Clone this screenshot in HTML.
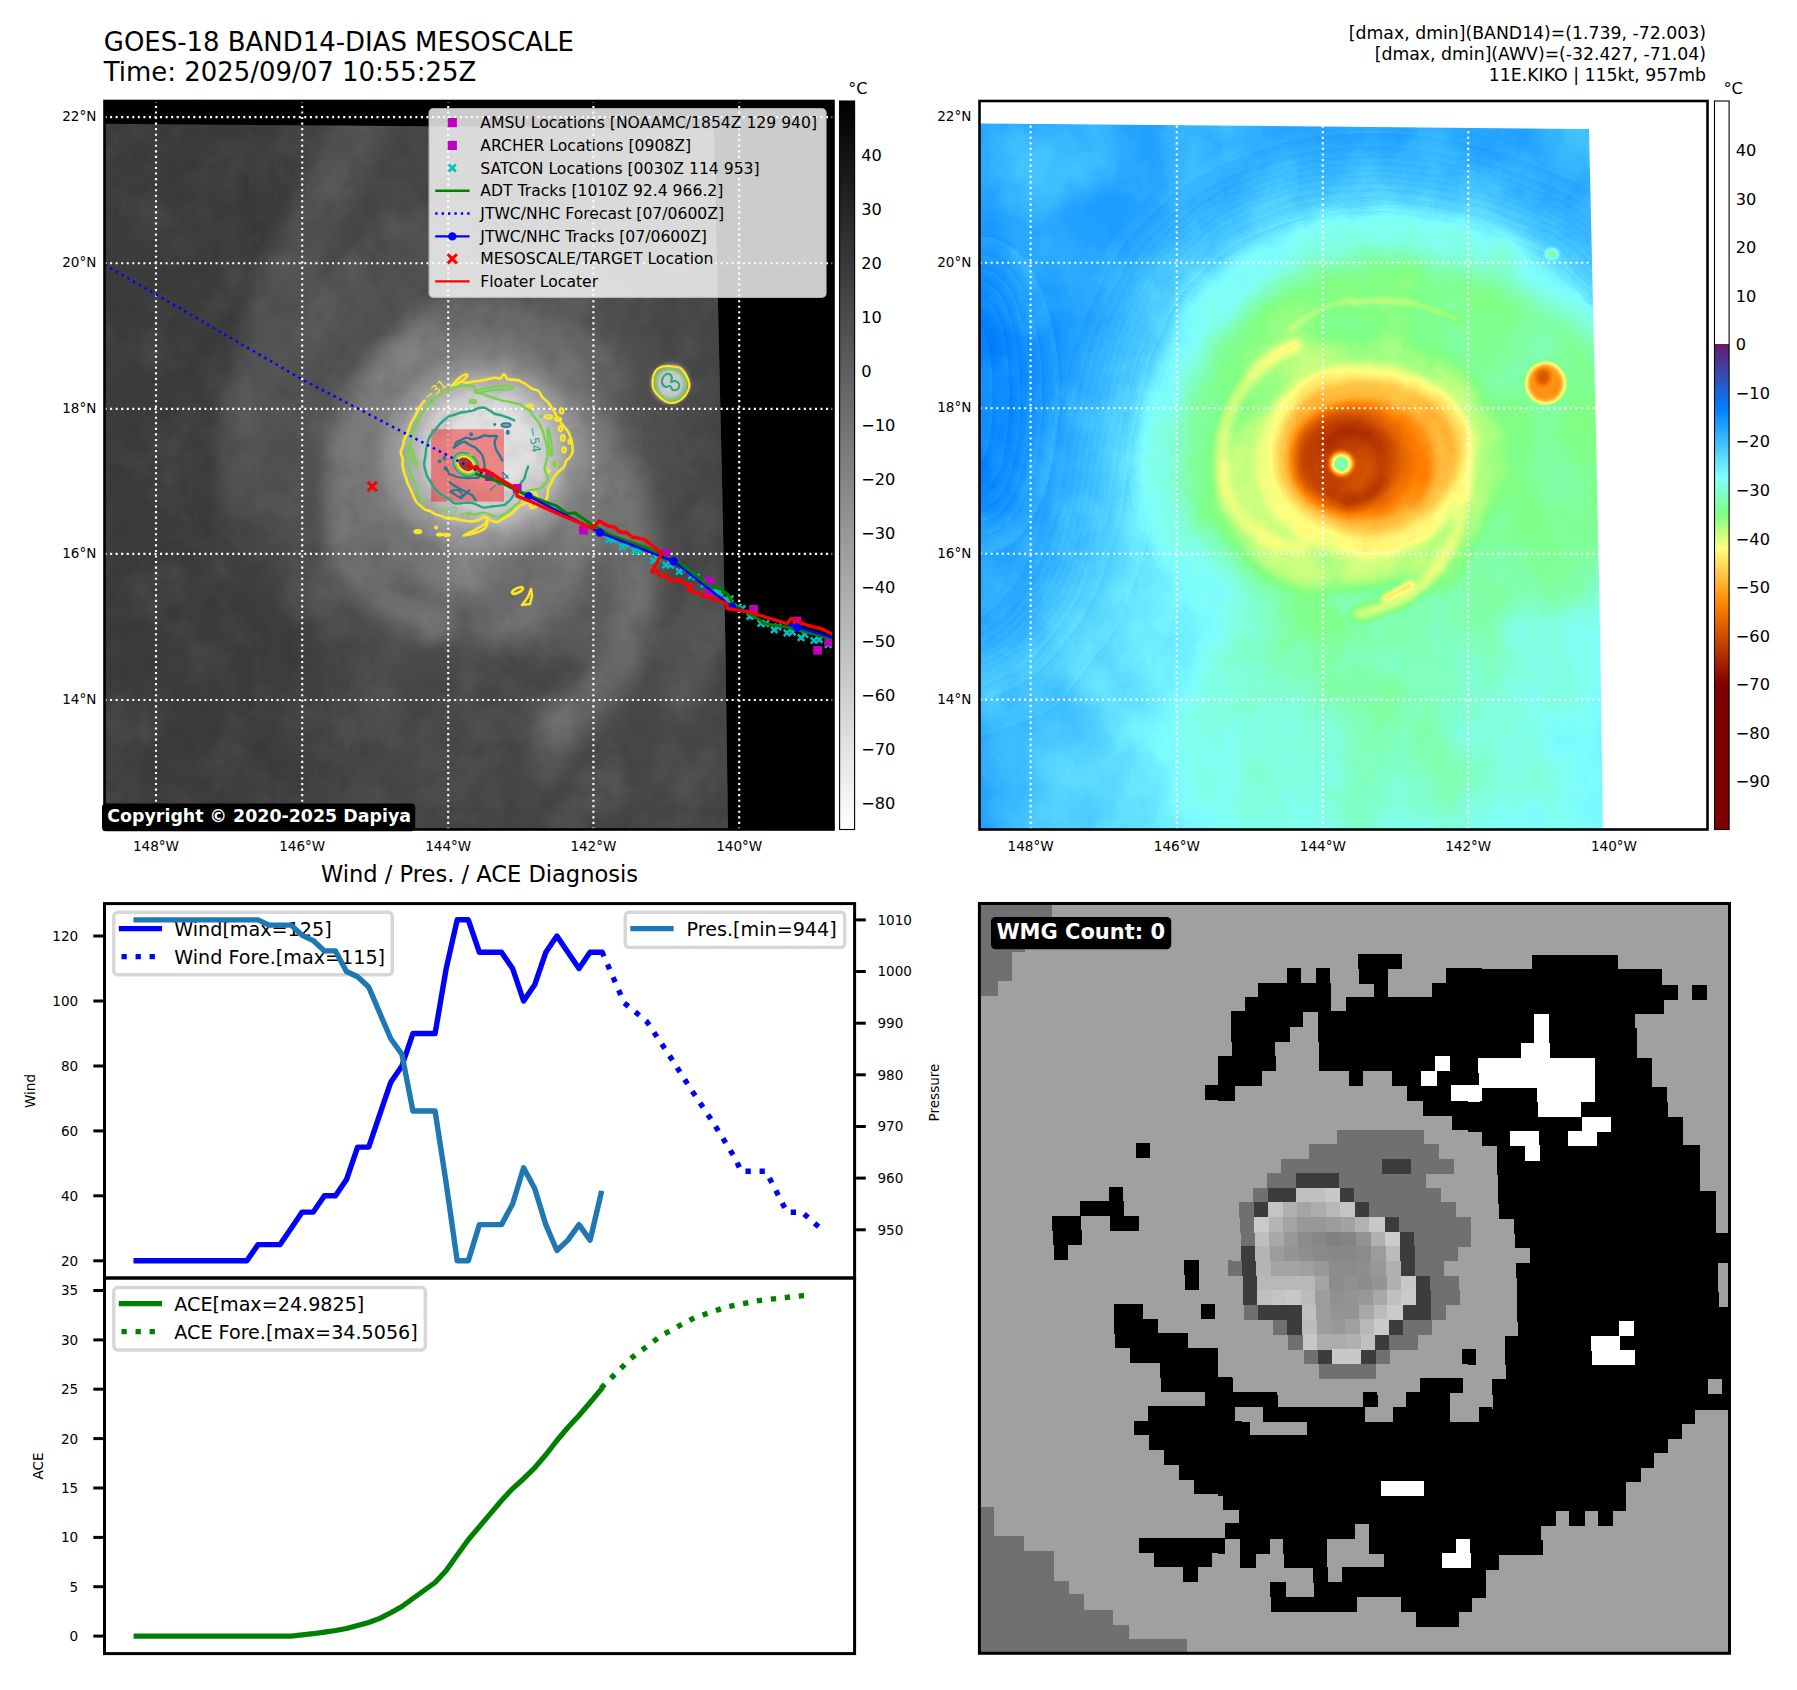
<!DOCTYPE html>
<html><head><meta charset="utf-8"><title>GOES-18 BAND14-DIAS MESOSCALE</title>
<style>
html,body{margin:0;padding:0;background:#fff;}
svg{display:block;}
text{font-family:"DejaVu Sans","Liberation Sans",sans-serif;}
</style></head>
<body>
<svg width="1797" height="1690" viewBox="0 0 1797 1690">
<text x="103.80" y="51.00" font-size="25.95" text-anchor="start" font-weight="normal" fill="#000" >GOES-18 BAND14-DIAS MESOSCALE</text>
<text x="103.80" y="80.60" font-size="25.95" text-anchor="start" font-weight="normal" fill="#000" >Time: 2025/09/07 10:55:25Z</text>
<text x="1706.00" y="38.70" font-size="17.3" text-anchor="end" font-weight="normal" fill="#000" >[dmax, dmin](BAND14)=(1.739, -72.003)</text>
<text x="1706.00" y="59.60" font-size="17.3" text-anchor="end" font-weight="normal" fill="#000" >[dmax, dmin](AWV)=(-32.427, -71.04)</text>
<text x="1706.00" y="81.00" font-size="17.3" text-anchor="end" font-weight="normal" fill="#000" >11E.KIKO | 115kt, 957mb</text>
<defs>
<linearGradient id="gGray" x1="0" y1="0" x2="0" y2="1"><stop offset="0" stop-color="#000"/><stop offset="1" stop-color="#fff"/></linearGradient>
<linearGradient id="gWV" x1="0" y1="0" x2="0" y2="1"><stop offset="0" stop-color="#fff"/><stop offset="0.3333" stop-color="#fff"/><stop offset="0.3334" stop-color="#6a1a6a"/><stop offset="0.4227" stop-color="#0080ff"/><stop offset="0.5160" stop-color="#80ffff"/><stop offset="0.5687" stop-color="#80ff80"/><stop offset="0.6133" stop-color="#ffff80"/><stop offset="0.6933" stop-color="#ff8000"/><stop offset="0.8000" stop-color="#800000"/><stop offset="1.0000" stop-color="#800000"/></linearGradient>
<filter id="b2" filterUnits="userSpaceOnUse" x="0" y="0" width="1797" height="1690"><feGaussianBlur stdDeviation="2"/></filter>
<filter id="b4" filterUnits="userSpaceOnUse" x="0" y="0" width="1797" height="1690"><feGaussianBlur stdDeviation="4"/></filter>
<filter id="b8" filterUnits="userSpaceOnUse" x="0" y="0" width="1797" height="1690"><feGaussianBlur stdDeviation="8"/></filter>
<filter id="b14" filterUnits="userSpaceOnUse" x="0" y="0" width="1797" height="1690"><feGaussianBlur stdDeviation="14"/></filter>
<filter id="b25" filterUnits="userSpaceOnUse" x="0" y="0" width="1797" height="1690"><feGaussianBlur stdDeviation="25"/></filter>
<clipPath id="clipA1"><rect x="104.5" y="101" width="729" height="728.5"/></clipPath>
<clipPath id="clipImg1"><polygon points="104.5,123.8 714,128.6 718,305 722,480 725.3,640 728,829.5 104.5,829.5"/></clipPath>
<clipPath id="clipA2"><rect x="979.5" y="101" width="728" height="728.5"/></clipPath>
<clipPath id="clipImg2"><polygon points="979.5,123.4 1589,129 1593,305 1597,480 1600.2,640 1602.9,829.5 979.5,829.5"/></clipPath>
</defs>
<rect x="104.5" y="101.0" width="729.0" height="728.5" fill="#000"/>
<g clip-path="url(#clipA1)">
<g clip-path="url(#clipImg1)">
<filter id="noise1" x="0" y="0" width="100%" height="100%" color-interpolation-filters="sRGB"><feTurbulence type="fractalNoise" baseFrequency="0.02 0.016" numOctaves="4" seed="11"/><feColorMatrix type="matrix" values="0 0 0 0 1  0 0 0 0 1  0 0 0 0 1  2.2 0 0 0 -0.95"/></filter><filter id="noise1b" x="0" y="0" width="100%" height="100%" color-interpolation-filters="sRGB"><feTurbulence type="fractalNoise" baseFrequency="0.05" numOctaves="3" seed="5"/><feColorMatrix type="matrix" values="0 0 0 0 0  0 0 0 0 0  0 0 0 0 0  2.0 0 0 0 -0.9"/></filter>
<rect x="100" y="95" width="750" height="745" fill="#3c3c3c"/>
<rect x="300" y="90" width="460" height="760" fill="#4a4a4a" opacity="0.85" filter="url(#b25)"/>
<polygon points="395,110 340,110 250,300 222,420 218,520 262,520 275,420 300,320" fill="#525252" opacity="0.9" filter="url(#b8)"/>
<ellipse cx="200" cy="660" rx="130" ry="150" fill="#3d3d3d" opacity="0.7" filter="url(#b25)"/>
<ellipse cx="690" cy="650" rx="28" ry="75" fill="#5a5a5a" opacity="0.7" filter="url(#b8)" transform="rotate(15 690 650)"/>
<ellipse cx="555" cy="745" rx="22" ry="45" fill="#5c5c5c" opacity="0.7" filter="url(#b8)" transform="rotate(20 555 745)"/>
<ellipse cx="600" cy="790" rx="30" ry="25" fill="#525252" opacity="0.6" filter="url(#b8)"/>
<ellipse cx="455" cy="445" rx="225" ry="210" fill="#565656" opacity="0.75" filter="url(#b25)"/>
<ellipse cx="480" cy="452" rx="140" ry="140" fill="#747474" opacity="0.9" filter="url(#b14)"/>
<ellipse cx="472" cy="472" rx="112" ry="128" fill="#868686" opacity="0.75" filter="url(#b14)"/>
<ellipse cx="565" cy="555" rx="85" ry="100" fill="#686868" opacity="0.6" filter="url(#b14)"/>
<ellipse cx="400" cy="470" rx="70" ry="110" fill="#686868" opacity="0.45" filter="url(#b14)"/>
<path d="M580,430 C630,480 650,560 632,630 C617,680 587,710 555,725" fill="none" stroke="#7e7e7e" stroke-width="42" stroke-linecap="round" stroke-linejoin="round" opacity="0.62" filter="url(#b14)"/>
<path d="M560,400 C600,450 600,530 560,585 C540,610 510,625 480,628" fill="none" stroke="#8c8c8c" stroke-width="32" stroke-linecap="round" stroke-linejoin="round" opacity="0.55" filter="url(#b14)"/>
<path d="M430,335 C355,390 325,480 350,550 C365,590 400,615 440,625" fill="none" stroke="#868686" stroke-width="34" stroke-linecap="round" stroke-linejoin="round" opacity="0.55" filter="url(#b8)"/>
<path d="M420,320 C500,290 580,320 620,380" fill="none" stroke="#707070" stroke-width="26" stroke-linecap="round" stroke-linejoin="round" opacity="0.5" filter="url(#b8)"/>
<ellipse cx="482" cy="455" rx="102" ry="94" fill="#989898" opacity="0.95" filter="url(#b8)"/>
<ellipse cx="484" cy="453" rx="82" ry="77" fill="#b4b4b4" opacity="1" filter="url(#b4)"/>
<ellipse cx="486" cy="452" rx="66" ry="62" fill="#d0d0d0" opacity="1" filter="url(#b4)"/>
<ellipse cx="492" cy="446" rx="46" ry="42" fill="#e0e0e0" opacity="1" filter="url(#b4)"/>
<ellipse cx="463.6" cy="463.6" rx="5" ry="5" fill="#707070" opacity="1" filter="url(#b2)"/>
<ellipse cx="670.6" cy="383.4" rx="19" ry="20" fill="#9a9a9a" opacity="1" filter="url(#b2)"/>
<ellipse cx="670.6" cy="383.4" rx="14" ry="15" fill="#c8c8c8" opacity="1" filter="url(#b2)"/>
<rect x="100" y="95" width="750" height="745" filter="url(#noise1)" opacity="0.07"/>
<rect x="100" y="95" width="750" height="745" filter="url(#noise1b)" opacity="0.07"/>
</g>
<g stroke="#fff" stroke-width="2.15" stroke-dasharray="2.1 3.45" fill="none"><line x1="156.0" y1="829.5" x2="156.0" y2="101.0"/><line x1="302.2" y1="829.5" x2="302.2" y2="101.0"/><line x1="448.2" y1="829.5" x2="448.2" y2="101.0"/><line x1="593.4" y1="829.5" x2="593.4" y2="101.0"/><line x1="739.2" y1="829.5" x2="739.2" y2="101.0"/><line x1="104.5" y1="117.1" x2="833.5" y2="117.1"/><line x1="104.5" y1="263.2" x2="833.5" y2="263.2"/><line x1="104.5" y1="408.8" x2="833.5" y2="408.8"/><line x1="104.5" y1="553.8" x2="833.5" y2="553.8"/><line x1="104.5" y1="700.0" x2="833.5" y2="700.0"/></g>
<rect x="431.1" y="429.2" width="72.9" height="72.5" fill="#ff0000" fill-opacity="0.4"/>
<path d="M451.1,385.5 C451.9,385.3 454.3,384.8 456.0,384.2 C457.7,383.5 459.4,381.9 461.2,381.7 C463.1,381.5 465.0,382.8 467.2,382.8 C469.5,382.7 472.2,381.8 474.8,381.4 C477.3,381.0 480.3,380.8 482.6,380.4 C485.0,379.9 486.9,379.3 488.8,378.9 C490.8,378.5 492.5,377.8 494.4,377.7 C496.3,377.6 499.1,378.6 500.3,378.4 C501.5,378.2 501.3,377.4 501.9,376.7 C502.5,376.0 503.2,373.9 503.9,374.0 C504.7,374.2 505.8,376.7 506.4,377.6 C507.1,378.5 506.8,378.9 508.0,379.3 C509.2,379.6 512.0,379.6 513.7,379.8 C515.4,379.9 516.8,379.8 518.2,380.2 C519.6,380.6 521.1,381.7 522.3,382.4 C523.6,383.0 524.3,383.2 525.9,384.2 C527.5,385.3 529.8,387.4 531.9,388.6 C534.0,389.8 536.9,389.9 538.6,391.2 C540.3,392.6 540.4,394.9 542.0,396.8 C543.6,398.6 546.7,400.8 548.2,402.5 C549.8,404.2 550.1,405.4 551.2,407.0 C552.2,408.5 553.5,410.2 554.5,411.9 C555.5,413.5 556.2,415.2 557.2,417.0 C558.2,418.7 559.4,420.6 560.6,422.3 C561.7,423.9 563.0,425.4 564.3,427.0 C565.6,428.6 567.3,430.5 568.2,431.9 C569.0,433.2 569.0,433.6 569.6,435.1 C570.2,436.7 571.2,439.4 571.7,441.3 C572.2,443.2 572.2,444.8 572.4,446.5 C572.5,448.3 573.0,450.0 572.6,451.8 C572.2,453.6 571.0,455.6 569.9,457.2 C568.8,458.7 566.9,459.4 565.9,461.0 C565.0,462.6 565.1,465.2 564.0,466.8 C563.0,468.4 560.9,469.5 559.7,470.6 C558.5,471.7 557.8,472.2 556.7,473.6 C555.6,474.9 553.8,477.4 552.9,478.8 C552.1,480.3 552.3,480.9 551.6,482.3 C550.9,483.6 549.4,485.3 548.8,487.0 C548.1,488.7 548.1,490.4 547.8,492.2 C547.5,494.1 547.5,496.5 546.9,498.1 C546.3,499.8 545.2,501.2 544.4,502.3 C543.7,503.4 543.5,504.2 542.3,504.8 C541.2,505.4 539.3,505.4 537.5,505.9 C535.7,506.4 532.7,508.0 531.5,507.8 C530.2,507.5 530.7,505.2 529.8,504.4 C529.0,503.5 527.5,502.6 526.5,502.7 C525.4,502.7 524.3,504.2 523.4,504.6 C522.5,505.1 522.2,504.5 520.9,505.3 C519.6,506.2 517.0,508.3 515.4,509.7 C513.7,511.2 512.9,512.6 511.0,514.0 C509.0,515.4 506.0,516.9 503.7,518.2 C501.4,519.6 499.5,521.8 497.3,522.1 C495.1,522.5 492.7,521.0 490.5,520.2 C488.3,519.3 486.0,517.1 484.2,517.0 C482.4,517.0 481.5,519.1 479.6,519.8 C477.7,520.5 475.1,521.0 472.9,521.3 C470.8,521.5 468.9,521.3 466.8,521.1 C464.6,520.9 462.2,520.4 460.1,520.0 C458.0,519.5 456.3,518.6 454.1,518.4 C452.0,518.1 449.2,518.9 447.0,518.5 C444.9,518.1 443.2,516.7 441.2,515.9 C439.3,515.2 437.3,515.2 435.3,514.3 C433.4,513.4 431.0,511.4 429.4,510.7 C427.8,510.0 427.3,510.8 425.8,509.9 C424.3,509.1 421.9,506.9 420.3,505.5 C418.7,504.1 417.4,503.3 416.2,501.7 C415.1,500.1 414.3,497.6 413.4,495.8 C412.6,493.9 412.0,492.3 411.1,490.3 C410.2,488.4 408.8,486.2 408.0,484.0 C407.1,481.9 406.5,479.4 405.9,477.5 C405.3,475.6 404.9,474.8 404.3,472.8 C403.8,470.9 403.0,468.3 402.7,466.0 C402.4,463.7 403.0,461.2 402.7,458.9 C402.3,456.6 400.6,454.4 400.7,452.2 C400.7,450.0 402.5,447.7 403.1,445.7 C403.6,443.7 403.2,442.1 403.9,440.2 C404.6,438.2 406.2,436.1 407.2,433.9 C408.1,431.6 408.8,428.9 409.6,426.9 C410.3,424.9 410.6,423.7 411.6,421.8 C412.6,419.9 414.3,417.9 415.5,415.5 C416.8,413.2 417.6,410.3 419.1,407.8 C420.6,405.4 423.5,402.0 424.4,400.9" fill="none" stroke="#fde725" stroke-width="2.6" stroke-linejoin="round" stroke-linecap="round"/>
<path d="M453.9,383.7 C454.7,382.4 458.8,378.1 461.0,376.6 C463.2,375.0 466.1,374.0 466.9,374.2 C467.7,374.4 467.5,376.1 465.7,377.8 C464.0,379.4 458.2,383.3 456.3,384.3 C454.3,385.2 453.1,385.0 453.9,383.7Z" fill="none" stroke="#fde725" stroke-width="2.5" stroke-linejoin="round" stroke-linecap="round"/>
<path d="M463.5,535.4 C463.5,534.9 469.6,532.8 473.1,530.9 C476.7,528.9 482.5,526.0 484.9,523.7 C487.4,521.5 487.7,516.6 487.8,517.4 C487.8,518.1 487.5,525.5 485.1,528.2 C482.7,530.9 476.8,532.4 473.2,533.6 C469.6,534.8 463.5,535.8 463.5,535.4Z" fill="none" stroke="#fde725" stroke-width="2.5" stroke-linejoin="round" stroke-linecap="round"/>
<path d="M529.6,493.7 C530.2,492.1 532.6,491.0 533.8,491.4 C535.0,491.8 536.4,493.7 536.7,496.1 C537.0,498.5 536.4,503.6 535.6,505.6 C534.7,507.5 532.3,508.7 531.4,507.9 C530.5,507.1 530.5,503.2 530.2,500.8 C529.9,498.5 529.1,495.3 529.6,493.7Z" fill="none" stroke="#fde725" stroke-width="2.5" stroke-linejoin="round" stroke-linecap="round"/>
<ellipse cx="417.8" cy="531.6" rx="3.3" ry="1.4" fill="none" stroke="#fde725" stroke-width="2.4"/>
<ellipse cx="439.7" cy="534.6" rx="2.6" ry="0.9" fill="none" stroke="#fde725" stroke-width="2.4"/>
<ellipse cx="446.8" cy="534.9" rx="3.0" ry="0.9" fill="none" stroke="#fde725" stroke-width="2.4"/>
<ellipse cx="436.2" cy="527.5" rx="0.9" ry="0.9" fill="none" stroke="#fde725" stroke-width="2.4"/>
<ellipse cx="529.6" cy="406.2" rx="3.0" ry="1.4" fill="none" stroke="#fde725" stroke-width="2.4"/>
<ellipse cx="548.6" cy="416.8" rx="3.6" ry="1.7" fill="none" stroke="#fde725" stroke-width="2.4"/>
<ellipse cx="558.0" cy="419.2" rx="3.0" ry="1.4" fill="none" stroke="#fde725" stroke-width="2.4"/>
<ellipse cx="561.6" cy="410.9" rx="1.8" ry="2.4" fill="none" stroke="#fde725" stroke-width="2.4"/>
<ellipse cx="560.4" cy="428.6" rx="1.7" ry="2.6" fill="none" stroke="#fde725" stroke-width="2.4"/>
<ellipse cx="562.8" cy="438.1" rx="1.9" ry="2.8" fill="none" stroke="#fde725" stroke-width="2.4"/>
<ellipse cx="569.9" cy="441.7" rx="1.4" ry="1.9" fill="none" stroke="#fde725" stroke-width="2.4"/>
<ellipse cx="564.0" cy="449.9" rx="1.7" ry="2.4" fill="none" stroke="#fde725" stroke-width="2.4"/>
<ellipse cx="555.7" cy="464.1" rx="1.4" ry="2.1" fill="none" stroke="#fde725" stroke-width="2.4"/>
<ellipse cx="548.6" cy="471.2" rx="0.9" ry="1.2" fill="none" stroke="#fde725" stroke-width="2.4"/>
<ellipse cx="517.5" cy="590.5" rx="6" ry="2.2" transform="rotate(-25 517.5 590.5)" fill="none" stroke="#fde725" stroke-width="2.5"/>
<path d="M522,605 L528,597 L531,589 L532,596 L530,604 Z" fill="none" stroke="#fde725" stroke-width="2.5" stroke-linejoin="round"/>
<path d="M431.2,399.8 C432.3,399.1 435.5,396.9 437.5,395.6 C439.5,394.2 441.3,392.8 443.3,391.8 C445.2,390.8 447.2,390.4 449.2,389.6 C451.3,388.8 453.2,387.8 455.7,387.1 C458.2,386.5 461.2,386.1 464.0,385.8 C466.9,385.6 471.0,385.4 472.7,385.8 C474.5,386.3 473.9,387.3 474.8,388.4 C475.6,389.5 476.7,391.6 477.7,392.5 C478.8,393.4 480.0,393.2 481.2,393.6 C482.5,394.0 483.6,394.4 485.2,395.0 C486.9,395.5 489.2,396.4 491.0,397.0 C492.8,397.6 494.2,398.0 496.1,398.6 C497.9,399.2 500.2,400.1 502.2,400.6 C504.2,401.1 505.9,401.1 508.0,401.5 C510.0,401.9 512.4,402.6 514.4,403.0 C516.5,403.5 518.6,403.7 520.2,404.4 C521.9,405.2 522.8,406.5 524.4,407.6 C526.0,408.6 528.3,409.3 529.9,410.8 C531.4,412.3 532.2,414.6 533.6,416.3 C534.9,418.1 536.6,419.4 537.9,421.3 C539.2,423.2 540.3,425.7 541.2,427.7 C542.2,429.7 542.9,431.5 543.5,433.5 C544.2,435.5 544.6,437.8 545.1,439.7 C545.6,441.7 546.1,443.1 546.5,445.0 C546.9,446.8 547.2,448.6 547.4,450.7 C547.5,452.7 547.6,455.3 547.3,457.3 C547.0,459.4 546.3,461.0 545.8,462.9 C545.3,464.9 544.4,467.2 544.5,469.1 C544.6,471.0 546.0,472.6 546.5,474.3 C547.1,476.0 548.2,477.7 547.8,479.3 C547.5,480.9 545.7,482.4 544.7,483.8 C543.6,485.2 543.0,486.8 541.6,487.8 C540.1,488.7 538.0,489.1 536.0,489.5 C534.0,490.0 531.2,490.0 529.6,490.4 C528.0,490.7 527.1,491.1 526.2,491.6 C525.2,492.1 524.6,492.2 523.9,493.1 C523.2,494.0 522.6,495.5 521.7,497.0 C520.9,498.5 520.1,500.7 518.9,502.2 C517.6,503.7 515.7,504.8 514.3,506.1 C512.9,507.4 512.0,508.5 510.3,509.8 C508.6,511.2 506.2,513.0 504.3,514.2 C502.3,515.4 500.5,516.9 498.4,517.1 C496.3,517.3 494.0,516.2 491.6,515.5 C489.3,514.7 486.3,512.9 484.2,512.6 C482.0,512.3 480.6,513.4 478.8,513.7 C477.0,514.0 474.9,514.4 473.2,514.3 C471.6,514.2 470.3,513.3 469.0,513.2 C467.7,513.0 466.1,513.1 465.6,513.1" fill="none" stroke="#7ad151" stroke-width="2.4" stroke-linejoin="round" stroke-linecap="round"/>
<path d="M424.0,506.0 C423.4,504.8 421.6,501.2 420.4,498.7 C419.2,496.2 417.6,493.5 416.8,491.1 C416.0,488.8 416.0,486.7 415.4,484.6 C414.7,482.4 413.4,480.3 412.6,478.3 C411.8,476.3 411.3,474.3 410.7,472.4 C410.0,470.5 409.1,468.9 408.6,466.8 C408.2,464.8 408.2,462.4 407.9,460.3 C407.7,458.3 407.1,456.3 407.3,454.4 C407.4,452.6 408.4,451.2 408.8,449.2 C409.3,447.2 409.5,444.4 410.0,442.5 C410.5,440.5 411.1,439.3 411.7,437.4 C412.2,435.5 412.4,433.4 413.2,431.1 C414.0,428.9 415.5,426.4 416.5,424.1 C417.5,421.7 417.9,419.6 419.4,417.0 C420.9,414.4 423.4,411.5 425.5,408.7 C427.6,405.9 430.8,401.7 431.8,400.3" fill="none" stroke="#7ad151" stroke-width="2.4" stroke-linejoin="round" stroke-linecap="round"/>
<path d="M475.2,391.0 C476.4,390.2 481.1,389.2 484.7,388.4 C488.2,387.6 492.6,386.7 496.5,386.3 C500.5,385.8 505.6,385.6 508.3,385.8 C511.1,386.0 513.1,386.9 513.1,387.5 C513.1,388.0 511.1,389.0 508.3,389.3 C505.6,389.7 500.5,389.2 496.5,389.6 C492.6,390.0 487.8,391.1 484.7,391.7 C481.5,392.3 479.2,393.3 477.6,393.1 C476.0,393.0 474.0,391.8 475.2,391.0Z" fill="none" stroke="#7ad151" stroke-width="2.3" stroke-linejoin="round" stroke-linecap="round"/>
<path d="M407.8,447.6 C407.7,445.6 409.7,444.0 410.7,445.2 C411.7,446.4 412.6,451.5 413.7,454.7 C414.8,457.8 416.9,462.4 417.2,464.1 C417.5,465.9 416.4,466.5 415.4,465.3 C414.5,464.1 412.6,460.0 411.3,457.0 C410.0,454.1 407.9,449.5 407.8,447.6Z" fill="none" stroke="#7ad151" stroke-width="2.3" stroke-linejoin="round" stroke-linecap="round"/>
<path d="M547.4,429.8 C547.5,427.9 548.5,428.8 549.2,431.0 C549.9,433.2 551.0,438.9 551.5,442.8 C552.0,446.8 552.3,452.7 552.1,454.7 C551.9,456.6 550.9,456.6 550.4,454.7 C549.8,452.7 549.1,447.0 548.6,442.8 C548.1,438.7 547.3,431.8 547.4,429.8Z" fill="none" stroke="#7ad151" stroke-width="2.3" stroke-linejoin="round" stroke-linecap="round"/>
<ellipse cx="472.8" cy="401.4" rx="3.3" ry="1.7" fill="#7ad151" fill-opacity="0.5" stroke="#7ad151" stroke-width="1.8"/>
<ellipse cx="431.4" cy="401.4" rx="1.7" ry="1.7" fill="#7ad151" fill-opacity="0.5" stroke="#7ad151" stroke-width="1.8"/>
<ellipse cx="540.9" cy="416.2" rx="0.9" ry="0.9" fill="#7ad151" fill-opacity="0.5" stroke="#7ad151" stroke-width="1.8"/>
<ellipse cx="555.1" cy="464.1" rx="1.7" ry="2.4" fill="#7ad151" fill-opacity="0.5" stroke="#7ad151" stroke-width="1.8"/>
<ellipse cx="462.2" cy="515.0" rx="1.2" ry="0.9" fill="#7ad151" fill-opacity="0.5" stroke="#7ad151" stroke-width="1.8"/>
<ellipse cx="468.1" cy="513.8" rx="1.4" ry="1.2" fill="#7ad151" fill-opacity="0.5" stroke="#7ad151" stroke-width="1.8"/>
<path d="M514.2,420.4 C513.3,420.0 510.8,418.7 508.9,417.9 C506.9,417.2 504.3,416.3 502.4,415.7 C500.6,415.1 499.3,414.8 497.9,414.5 C496.5,414.1 495.8,414.3 494.3,413.6 C492.8,412.9 490.6,411.0 488.9,410.1 C487.2,409.1 485.8,408.1 484.2,407.7 C482.5,407.4 480.8,407.5 479.0,408.0 C477.2,408.4 475.4,409.7 473.4,410.3 C471.4,410.9 469.2,411.2 467.1,411.6 C465.0,412.0 462.6,412.2 460.6,412.7 C458.6,413.2 457.1,413.9 455.1,414.5 C453.2,415.1 450.7,415.5 448.8,416.5 C446.9,417.5 445.4,419.0 443.9,420.3 C442.3,421.6 441.1,422.7 439.6,424.3 C438.2,425.9 436.6,428.1 435.0,430.0 C433.4,431.9 431.4,433.9 430.2,435.9 C429.0,437.9 428.5,439.7 427.8,442.0 C427.1,444.2 426.5,446.9 426.1,449.4 C425.7,451.8 425.7,454.3 425.3,456.7 C425.0,459.1 424.1,461.7 424.1,463.8 C424.1,466.0 424.8,467.5 425.2,469.5 C425.7,471.5 426.1,473.8 427.0,475.9 C427.9,477.9 429.4,479.7 430.7,481.8 C431.9,483.8 433.1,486.6 434.3,488.2 C435.5,489.9 436.4,490.3 437.9,491.6 C439.5,492.9 441.8,494.7 443.7,496.1 C445.7,497.4 447.9,498.3 449.7,499.5 C451.6,500.7 452.2,502.8 454.6,503.4 C457.0,503.9 461.3,503.0 464.3,502.9 C467.3,502.9 469.8,502.5 472.3,503.0 C474.8,503.5 477.3,505.1 479.3,505.9 C481.3,506.6 481.8,507.6 484.2,507.6 C486.6,507.7 490.4,506.6 493.7,506.2 C497.0,505.8 501.7,505.8 504.0,505.2 C506.2,504.6 506.2,503.4 507.2,502.5 C508.3,501.7 509.1,501.4 510.3,499.9 C511.5,498.5 513.0,495.9 514.4,493.9 C515.8,491.9 517.4,489.6 518.5,487.7 C519.6,485.9 520.1,484.3 521.0,482.8 C522.0,481.3 523.5,480.4 524.3,478.7 C525.1,477.1 525.2,474.9 525.9,472.9 C526.5,470.8 527.7,467.5 528.1,466.4" fill="none" stroke="#22a884" stroke-width="2.4" stroke-linejoin="round" stroke-linecap="round"/>
<path d="M453.7,447.8 C453.9,447.4 454.9,446.4 455.3,445.6 C455.7,444.7 455.1,443.5 456.0,442.6 C456.9,441.7 459.0,441.0 460.7,440.2 C462.3,439.4 464.5,438.0 466.0,437.7 C467.4,437.4 468.2,438.2 469.3,438.4 C470.4,438.7 471.0,439.4 472.6,439.2 C474.3,439.1 477.2,438.2 479.1,437.6 C481.0,437.0 482.3,435.8 484.2,435.5 C486.0,435.3 488.1,436.0 490.2,436.1 C492.3,436.2 495.9,435.6 496.8,436.0 C497.7,436.5 496.0,438.0 495.7,438.9 C495.3,439.9 494.7,440.7 494.6,442.0 C494.5,443.2 494.8,444.8 495.1,446.1 C495.4,447.5 495.8,448.7 496.5,450.2 C497.2,451.7 498.6,453.5 499.5,455.2 C500.5,456.9 501.8,459.6 502.3,460.5" fill="none" stroke="#2a788e" stroke-width="2.3" stroke-linejoin="round" stroke-linecap="round"/>
<path d="M453.9,447.6 C455.1,446.8 459.0,443.8 461.0,442.8 C463.0,441.9 465.0,441.9 465.7,441.7" fill="none" stroke="#2a788e" stroke-width="2.3" stroke-linejoin="round" stroke-linecap="round"/>
<path d="M466.5,443.1 C467.3,443.5 469.8,445.0 471.2,445.7 C472.7,446.4 473.6,446.4 474.9,447.3 C476.2,448.2 477.8,450.0 479.0,451.3 C480.2,452.6 481.3,453.6 482.1,454.9 C482.8,456.2 483.0,457.9 483.4,459.1 C483.7,460.4 484.0,461.4 484.2,462.6 C484.4,463.8 484.7,465.0 484.6,466.3 C484.4,467.6 483.8,469.3 483.2,470.4 C482.7,471.6 482.0,472.0 481.3,473.2 C480.6,474.3 480.3,476.6 478.8,477.4 C477.3,478.1 474.5,477.8 472.4,477.9 C470.4,478.1 468.4,478.2 466.5,478.1 C464.6,478.1 462.7,477.6 461.1,477.4 C459.5,477.2 458.1,477.4 456.8,477.0 C455.5,476.7 454.6,475.8 453.3,475.3 C452.1,474.8 450.2,474.8 449.3,474.1 C448.4,473.3 448.2,471.6 447.6,470.8 C447.0,469.9 446.0,469.3 445.7,469.0" fill="none" stroke="#2a788e" stroke-width="2.3" stroke-linejoin="round" stroke-linecap="round"/>
<path d="M449.8,482.4 C450.4,482.8 451.9,484.2 453.1,485.0 C454.2,485.8 455.5,486.3 457.0,487.1 C458.4,487.9 460.0,489.0 461.5,489.8 C463.1,490.7 465.0,491.5 466.2,492.1 C467.5,492.7 467.8,492.9 468.9,493.5 C470.1,494.1 472.3,495.1 473.1,495.8 C473.9,496.5 473.3,496.8 473.7,497.5 C474.1,498.2 475.4,499.7 475.7,500.2" fill="none" stroke="#2a788e" stroke-width="2.3" stroke-linejoin="round" stroke-linecap="round"/>
<path d="M451.5,491.4 C451.1,490.2 456.7,489.6 458.6,490.2 C460.6,490.8 461.6,494.9 463.4,494.9 C465.1,494.9 469.7,489.8 469.3,490.2 C468.9,490.6 464.0,497.1 461.0,497.3 C458.0,497.5 451.9,492.5 451.5,491.4Z" fill="none" stroke="#2a788e" stroke-width="2.0" stroke-linejoin="round" stroke-linecap="round"/>
<ellipse cx="506.0" cy="425.1" rx="4.7" ry="2.1" fill="#2a788e" fill-opacity="0.6" stroke="#2a788e" stroke-width="1.6"/>
<ellipse cx="507.8" cy="432.2" rx="1.2" ry="1.7" fill="#2a788e" fill-opacity="0.6" stroke="#2a788e" stroke-width="1.6"/>
<ellipse cx="494.7" cy="424.5" rx="0.7" ry="0.7" fill="#2a788e" fill-opacity="0.6" stroke="#2a788e" stroke-width="1.6"/>
<ellipse cx="471.1" cy="434.3" rx="1.2" ry="1.2" fill="#2a788e" fill-opacity="0.6" stroke="#2a788e" stroke-width="1.6"/>
<ellipse cx="439.7" cy="461.2" rx="1.2" ry="1.2" fill="#2a788e" fill-opacity="0.6" stroke="#2a788e" stroke-width="1.6"/>
<ellipse cx="444.4" cy="458.2" rx="1.2" ry="1.4" fill="#2a788e" fill-opacity="0.6" stroke="#2a788e" stroke-width="1.6"/>
<ellipse cx="445.6" cy="468.3" rx="1.4" ry="1.2" fill="#2a788e" fill-opacity="0.6" stroke="#2a788e" stroke-width="1.6"/>
<ellipse cx="451.5" cy="491.4" rx="1.4" ry="1.2" fill="#2a788e" fill-opacity="0.6" stroke="#2a788e" stroke-width="1.6"/>
<ellipse cx="461.0" cy="497.3" rx="1.7" ry="1.2" fill="#2a788e" fill-opacity="0.6" stroke="#2a788e" stroke-width="1.6"/>
<g transform="rotate(38 465.8 464.3)">
<ellipse cx="465.8" cy="464.3" rx="13.5" ry="10.5" fill="none" stroke="#22a884" stroke-width="1.8"/>
<ellipse cx="465.8" cy="464.3" rx="11.6" ry="8.8" fill="none" stroke="#7ad151" stroke-width="1.8"/>
<ellipse cx="465.8" cy="464.3" rx="9.3" ry="6.8" fill="#9c3838" stroke="#fde725" stroke-width="2"/>
</g>
<ellipse cx="471.5" cy="454.5" rx="2.6" ry="1.6" fill="#7ad151"/>
<text x="0" y="0" font-size="12.2" fill="#fde725" text-anchor="middle" transform="translate(437.3,393.7) rotate(-38)">−31</text>
<text x="0" y="0" font-size="12.2" fill="#7ad151" text-anchor="middle" transform="translate(443.8,513.8) rotate(14)">−42</text>
<text x="0" y="0" font-size="12.2" fill="#22a884" text-anchor="middle" transform="translate(530.2,440.5) rotate(80)">−54</text>
<text x="0" y="0" font-size="12.2" fill="#2a788e" text-anchor="middle" transform="translate(500.7,485.4) rotate(-42)">−64</text>
<path d="M669.6,366.2 C672.7,366.4 677.3,366.3 680.2,368.0 C683.0,369.7 685.1,373.3 686.7,376.4 C688.2,379.4 689.6,382.8 689.4,386.0 C689.1,389.2 687.0,393.0 685.0,395.7 C683.0,398.3 680.2,400.7 677.4,401.8 C674.6,403.0 670.9,403.2 668.1,402.5 C665.3,401.8 662.8,399.9 660.4,397.7 C657.9,395.5 655.0,392.3 653.7,389.5 C652.4,386.6 652.3,383.3 652.6,380.3 C652.9,377.2 654.0,373.4 655.5,371.1 C656.9,368.9 659.1,367.6 661.4,366.8 C663.8,366.0 666.5,366.0 669.6,366.2Z" fill="none" stroke="#fde725" stroke-width="2.3" stroke-linejoin="round" stroke-linecap="round"/>
<path d="M670.4,369.2 C672.8,369.5 676.3,370.5 678.6,371.9 C680.9,373.3 683.0,375.4 684.2,377.7 C685.5,380.0 686.4,383.2 686.1,385.9 C685.9,388.6 684.4,391.6 682.8,393.8 C681.2,395.9 678.8,397.8 676.4,398.9 C673.9,399.9 670.6,400.4 668.1,399.8 C665.5,399.3 663.1,397.4 661.1,395.3 C659.2,393.3 657.6,390.2 656.7,387.6 C655.8,385.1 655.6,382.5 655.8,380.1 C656.0,377.7 656.4,374.9 657.8,373.3 C659.3,371.6 662.2,370.7 664.3,370.1 C666.4,369.4 668.0,368.9 670.4,369.2Z" fill="none" stroke="#7ad151" stroke-width="2.0" stroke-linejoin="round" stroke-linecap="round"/>
<path d="M664.0,376.0 C665.2,374.5 667.7,373.7 669.0,374.0 C670.3,374.3 671.7,376.7 672.0,378.0 C672.3,379.3 670.5,381.5 671.0,382.0 C671.5,382.5 673.7,380.7 675.0,381.0 C676.3,381.3 678.5,382.7 679.0,384.0 C679.5,385.3 679.0,388.0 678.0,389.0 C677.0,390.0 674.3,390.5 673.0,390.0 C671.7,389.5 671.2,386.5 670.0,386.0 C668.8,385.5 667.3,387.5 666.0,387.0 C664.7,386.5 662.3,384.8 662.0,383.0 C661.7,381.2 662.8,377.5 664.0,376.0Z" fill="none" stroke="#22a884" stroke-width="2.0" stroke-linejoin="round" stroke-linecap="round"/>
<polyline points="104.5,264.5 302.3,379.5 461,462.5 528.5,496.1" fill="none" stroke="#0000ff" stroke-width="2.5" stroke-dasharray="2.5 4.1"/>
<path d="M605.6,536.4 L612.0,542.8 M605.6,542.8 L612.0,536.4" stroke="#00bfbf" stroke-width="2.6" fill="none"/>
<path d="M610.5,536.8 L616.9,543.2 M610.5,543.2 L616.9,536.8" stroke="#00bfbf" stroke-width="2.6" fill="none"/>
<path d="M618.9,543.4 L625.3,549.8 M618.9,549.8 L625.3,543.4" stroke="#00bfbf" stroke-width="2.6" fill="none"/>
<path d="M622.3,541.0 L628.7,547.4 M622.3,547.4 L628.7,541.0" stroke="#00bfbf" stroke-width="2.6" fill="none"/>
<path d="M631.1,547.9 L637.5,554.3 M631.1,554.3 L637.5,547.9" stroke="#00bfbf" stroke-width="2.6" fill="none"/>
<path d="M636.2,547.9 L642.6,554.3 M636.2,554.3 L642.6,547.9" stroke="#00bfbf" stroke-width="2.6" fill="none"/>
<path d="M650.2,557.4 L656.6,563.8 M650.2,563.8 L656.6,557.4" stroke="#00bfbf" stroke-width="2.6" fill="none"/>
<path d="M653.8,554.9 L660.2,561.3 M653.8,561.3 L660.2,554.9" stroke="#00bfbf" stroke-width="2.6" fill="none"/>
<path d="M662.5,561.8 L668.9,568.2 M662.5,568.2 L668.9,561.8" stroke="#00bfbf" stroke-width="2.6" fill="none"/>
<path d="M667.6,561.9 L674.0,568.3 M667.6,568.3 L674.0,561.9" stroke="#00bfbf" stroke-width="2.6" fill="none"/>
<path d="M676.0,568.3 L682.4,574.7 M676.0,574.7 L682.4,568.3" stroke="#00bfbf" stroke-width="2.6" fill="none"/>
<path d="M679.6,565.8 L686.0,572.2 M679.6,572.2 L686.0,565.8" stroke="#00bfbf" stroke-width="2.6" fill="none"/>
<path d="M688.3,572.8 L694.7,579.2 M688.3,579.2 L694.7,572.8" stroke="#00bfbf" stroke-width="2.6" fill="none"/>
<path d="M692.9,573.8 L699.3,580.2 M692.9,580.2 L699.3,573.8" stroke="#00bfbf" stroke-width="2.6" fill="none"/>
<path d="M700.9,581.0 L707.3,587.4 M700.9,587.4 L707.3,581.0" stroke="#00bfbf" stroke-width="2.6" fill="none"/>
<path d="M703.8,579.7 L710.2,586.1 M703.8,586.1 L710.2,579.7" stroke="#00bfbf" stroke-width="2.6" fill="none"/>
<path d="M711.7,588.0 L718.1,594.4 M711.7,594.4 L718.1,588.0" stroke="#00bfbf" stroke-width="2.6" fill="none"/>
<path d="M716.1,589.4 L722.5,595.8 M716.1,595.8 L722.5,589.4" stroke="#00bfbf" stroke-width="2.6" fill="none"/>
<path d="M723.9,596.9 L730.3,603.3 M723.9,603.3 L730.3,596.9" stroke="#00bfbf" stroke-width="2.6" fill="none"/>
<path d="M726.8,595.6 L733.2,602.0 M726.8,602.0 L733.2,595.6" stroke="#00bfbf" stroke-width="2.6" fill="none"/>
<path d="M734.8,603.9 L741.2,610.3 M734.8,610.3 L741.2,603.9" stroke="#00bfbf" stroke-width="2.6" fill="none"/>
<path d="M739.0,605.5 L745.4,611.9 M739.0,611.9 L745.4,605.5" stroke="#00bfbf" stroke-width="2.6" fill="none"/>
<path d="M746.7,613.1 L753.1,619.5 M746.7,619.5 L753.1,613.1" stroke="#00bfbf" stroke-width="2.6" fill="none"/>
<path d="M749.5,612.0 L755.9,618.4 M749.5,618.4 L755.9,612.0" stroke="#00bfbf" stroke-width="2.6" fill="none"/>
<path d="M757.6,620.2 L764.0,626.6 M757.6,626.6 L764.0,620.2" stroke="#00bfbf" stroke-width="2.6" fill="none"/>
<path d="M762.5,620.4 L768.9,626.8 M762.5,626.8 L768.9,620.4" stroke="#00bfbf" stroke-width="2.6" fill="none"/>
<path d="M771.0,626.6 L777.4,633.0 M771.0,633.0 L777.4,626.6" stroke="#00bfbf" stroke-width="2.6" fill="none"/>
<path d="M774.8,623.6 L781.2,630.0 M774.8,630.0 L781.2,623.6" stroke="#00bfbf" stroke-width="2.6" fill="none"/>
<path d="M783.8,629.6 L790.2,636.0 M783.8,636.0 L790.2,629.6" stroke="#00bfbf" stroke-width="2.6" fill="none"/>
<path d="M789.2,628.9 L795.6,635.3 M789.2,635.3 L795.6,628.9" stroke="#00bfbf" stroke-width="2.6" fill="none"/>
<path d="M797.9,634.5 L804.3,640.9 M797.9,640.9 L804.3,634.5" stroke="#00bfbf" stroke-width="2.6" fill="none"/>
<path d="M801.7,631.3 L808.1,637.7 M801.7,637.7 L808.1,631.3" stroke="#00bfbf" stroke-width="2.6" fill="none"/>
<path d="M810.7,637.3 L817.1,643.7 M810.7,643.7 L817.1,637.3" stroke="#00bfbf" stroke-width="2.6" fill="none"/>
<path d="M816.1,636.5 L822.5,642.9 M816.1,642.9 L822.5,636.5" stroke="#00bfbf" stroke-width="2.6" fill="none"/>
<path d="M825.0,641.5 L831.4,647.9 M825.0,647.9 L831.4,641.5" stroke="#00bfbf" stroke-width="2.6" fill="none"/>
<rect x="579.0" y="525.6" width="8.8" height="8.8" fill="#bf00bf"/>
<rect x="661.6" y="549.1" width="8.8" height="8.8" fill="#bf00bf"/>
<rect x="704.6" y="576.6" width="8.8" height="8.8" fill="#bf00bf"/>
<rect x="704.6" y="589.1" width="8.8" height="8.8" fill="#bf00bf"/>
<rect x="749.3" y="605.0" width="8.8" height="8.8" fill="#bf00bf"/>
<rect x="792.6" y="616.6" width="8.8" height="8.8" fill="#bf00bf"/>
<rect x="813.2" y="645.9" width="8.8" height="8.8" fill="#bf00bf"/>
<rect x="824.4" y="637.6" width="8.8" height="8.8" fill="#bf00bf"/>
<rect x="485.0" y="472.2" width="8.8" height="8.8" fill="#bf00bf"/>
<rect x="512.8" y="484.0" width="8.8" height="8.8" fill="#bf00bf"/>
<polyline points="475.2,473.6 500.0,482.0 520.0,492.0 540.0,500.0 555.7,505.6 567.5,513.8 574.6,512.7 592.6,525.1 610.0,535.0 643.5,546.8 680.2,563.5 693.6,573.5 710.3,586.8 720.3,588.5 728.6,595.2 732.0,603.5 760.3,620.2 763.7,623.6 790.4,627.7 802.0,631.1 833.0,639.0" fill="none" stroke="#008000" stroke-width="3" stroke-linejoin="round"/>
<polyline points="528.5,496.1 600.0,532.6 673.5,561.3 732.0,606.9 797.0,627.2 835.0,638.5" fill="none" stroke="#0000ff" stroke-width="2.4" stroke-linejoin="round"/>
<circle cx="528.5" cy="496.1" r="4.2" fill="#0000ff"/>
<circle cx="600.0" cy="532.6" r="4.2" fill="#0000ff"/>
<circle cx="673.5" cy="561.3" r="4.2" fill="#0000ff"/>
<circle cx="732.0" cy="606.9" r="4.2" fill="#0000ff"/>
<circle cx="797.0" cy="627.2" r="4.2" fill="#0000ff"/>
<polyline points="466.9,464.1 472.0,468.0 476.0,466.5 480.0,470.5 485.0,470.0 491.8,473.6 500.0,479.0 516.6,489.0 517.2,496.1 532.0,502.0 555.7,512.7 592.6,528.4 599.2,520.9 607.0,525.5 615.0,527.6 620.0,532.0 626.8,532.5 632.0,537.0 644.3,539.3 661.8,553.5 651.8,571.8 657.0,570.5 660.0,576.0 666.8,575.5 671.0,581.0 680.2,579.8 686.0,585.0 692.7,585.2 688.5,590.2 727.0,603.5 727.0,608.5 748.6,611.9 787.0,623.6 791.2,618.6 807.1,625.2 822.0,629.0 833.0,634.5" fill="none" stroke="#ff0000" stroke-width="3.4" stroke-linejoin="round"/>
<path d="M367.7,481.9 L376.9,491.1 M367.7,491.1 L376.9,481.9" stroke="#ff0000" stroke-width="3" fill="none"/>
</g>
<rect x="104.5" y="101.0" width="729.0" height="728.5" fill="none" stroke="#000" stroke-width="2.6"/>
<rect x="429.3" y="108.8" width="396.6" height="188.4" rx="4" ry="4" fill="#fff" fill-opacity="0.8" stroke="#ccc" stroke-opacity="0.8" stroke-width="1.6"/>
<text x="480.3" y="128.2" font-size="15.62" fill="#000">AMSU Locations [NOAAMC/1854Z 129 940]</text>
<text x="480.3" y="151.0" font-size="15.62" fill="#000">ARCHER Locations [0908Z]</text>
<text x="480.3" y="173.5" font-size="15.62" fill="#000">SATCON Locations [0030Z 114 953]</text>
<text x="480.3" y="196.3" font-size="15.62" fill="#000">ADT Tracks [1010Z 92.4 966.2]</text>
<text x="480.3" y="219.1" font-size="15.62" fill="#000">JTWC/NHC Forecast [07/0600Z]</text>
<text x="480.3" y="242.0" font-size="15.62" fill="#000">JTWC/NHC Tracks [07/0600Z]</text>
<text x="480.3" y="264.4" font-size="15.62" fill="#000">MESOSCALE/TARGET Location</text>
<text x="480.3" y="287.0" font-size="15.62" fill="#000">Floater Locater</text>
<rect x="447.7" y="118.0" width="9.2" height="9.2" fill="#bf00bf"/>
<rect x="447.7" y="140.8" width="9.2" height="9.2" fill="#bf00bf"/>
<path d="M448.7,164.3 L455.9,171.5 M448.7,171.5 L455.9,164.3" stroke="#00bfbf" stroke-width="2.6" fill="none"/>
<line x1="435.2" y1="190.70000000000002" x2="469.6" y2="190.70000000000002" stroke="#008000" stroke-width="2.4"/>
<line x1="435.2" y1="213.5" x2="469.6" y2="213.5" stroke="#0000ff" stroke-width="2.4" stroke-dasharray="2.4 4"/>
<line x1="435.2" y1="236.4" x2="469.6" y2="236.4" stroke="#0000ff" stroke-width="2.4"/>
<circle cx="452.3" cy="236.4" r="4.2" fill="#0000ff"/>
<path d="M447.7,254.2 L456.9,263.4 M447.7,263.4 L456.9,254.2" stroke="#ff0000" stroke-width="3" fill="none"/>
<line x1="435.2" y1="281.4" x2="469.6" y2="281.4" stroke="#ff0000" stroke-width="2.4"/>
<rect x="102" y="803.6" width="313.2" height="27.6" rx="4" ry="4" fill="#000"/>
<text x="107.30" y="821.50" font-size="17.42" text-anchor="start" font-weight="bold" fill="#fff" >Copyright © 2020-2025 Dapiya</text>
<text x="156.00" y="851.30" font-size="13.55" text-anchor="middle" font-weight="normal" fill="#000" >148°W</text>
<text x="302.20" y="851.30" font-size="13.55" text-anchor="middle" font-weight="normal" fill="#000" >146°W</text>
<text x="448.20" y="851.30" font-size="13.55" text-anchor="middle" font-weight="normal" fill="#000" >144°W</text>
<text x="593.40" y="851.30" font-size="13.55" text-anchor="middle" font-weight="normal" fill="#000" >142°W</text>
<text x="739.20" y="851.30" font-size="13.55" text-anchor="middle" font-weight="normal" fill="#000" >140°W</text>
<text x="96.40" y="121.00" font-size="13.55" text-anchor="end" font-weight="normal" fill="#000" >22°N</text>
<text x="96.40" y="267.10" font-size="13.55" text-anchor="end" font-weight="normal" fill="#000" >20°N</text>
<text x="96.40" y="412.70" font-size="13.55" text-anchor="end" font-weight="normal" fill="#000" >18°N</text>
<text x="96.40" y="557.70" font-size="13.55" text-anchor="end" font-weight="normal" fill="#000" >16°N</text>
<text x="96.40" y="703.90" font-size="13.55" text-anchor="end" font-weight="normal" fill="#000" >14°N</text>
<rect x="839.6" y="101" width="15" height="728.5" fill="url(#gGray)" stroke="#000" stroke-width="1.1"/>
<text x="861.20" y="161.36" font-size="16.2" text-anchor="start" font-weight="normal" fill="#000" >40</text>
<text x="861.20" y="215.33" font-size="16.2" text-anchor="start" font-weight="normal" fill="#000" >30</text>
<text x="861.20" y="269.29" font-size="16.2" text-anchor="start" font-weight="normal" fill="#000" >20</text>
<text x="861.20" y="323.25" font-size="16.2" text-anchor="start" font-weight="normal" fill="#000" >10</text>
<text x="861.20" y="377.21" font-size="16.2" text-anchor="start" font-weight="normal" fill="#000" >0</text>
<text x="861.20" y="431.18" font-size="16.2" text-anchor="start" font-weight="normal" fill="#000" >−10</text>
<text x="861.20" y="485.14" font-size="16.2" text-anchor="start" font-weight="normal" fill="#000" >−20</text>
<text x="861.20" y="539.10" font-size="16.2" text-anchor="start" font-weight="normal" fill="#000" >−30</text>
<text x="861.20" y="593.07" font-size="16.2" text-anchor="start" font-weight="normal" fill="#000" >−40</text>
<text x="861.20" y="647.03" font-size="16.2" text-anchor="start" font-weight="normal" fill="#000" >−50</text>
<text x="861.20" y="700.99" font-size="16.2" text-anchor="start" font-weight="normal" fill="#000" >−60</text>
<text x="861.20" y="754.96" font-size="16.2" text-anchor="start" font-weight="normal" fill="#000" >−70</text>
<text x="861.20" y="808.92" font-size="16.2" text-anchor="start" font-weight="normal" fill="#000" >−80</text>
<text x="848.20" y="94.00" font-size="16.2" text-anchor="start" font-weight="normal" fill="#000" >°C</text>
<rect x="979.5" y="101.0" width="728.0" height="728.5" fill="#fff"/>
<g clip-path="url(#clipA2)">
<g clip-path="url(#clipImg2)">
<filter id="noise2" x="0" y="0" width="100%" height="100%" color-interpolation-filters="sRGB"><feTurbulence type="fractalNoise" baseFrequency="0.012 0.01" numOctaves="4" seed="3"/><feColorMatrix type="matrix" values="0 0 0 0 1  0 0 0 0 1  0 0 0 0 1  2.4 0 0 0 -0.9"/></filter><filter id="noise2b" x="0" y="0" width="100%" height="100%" color-interpolation-filters="sRGB"><feTurbulence type="fractalNoise" baseFrequency="0.014 0.011" numOctaves="4" seed="9"/><feColorMatrix type="matrix" values="0 0 0 0 0  0 0 0 0 0  0 0 0 0 0  2.4 0 0 0 -0.9"/></filter>
<filter id="cmap" x="0" y="0" width="100%" height="100%" color-interpolation-filters="sRGB" filterUnits="objectBoundingBox">
<feComponentTransfer><feFuncR type="table" tableValues="0.416 0.385 0.354 0.323 0.292 0.261 0.230 0.199 0.168 0.136 0.105 0.074 0.043 0.012 0.022 0.057 0.093 0.129 0.165 0.201 0.237 0.272 0.308 0.344 0.380 0.416 0.452 0.488 0.502 0.502 0.502 0.502 0.502 0.502 0.502 0.502 0.554 0.628 0.703 0.777 0.851 0.926 1.000 1.000 1.000 1.000 1.000 1.000 1.000 1.000 1.000 1.000 1.000 1.000 1.000 0.969 0.938 0.907 0.875 0.844 0.813 0.782 0.751 0.720 0.689 0.658 0.626 0.595 0.564 0.533 0.502 0.502 0.502 0.502 0.502 0.502 0.502 0.502 0.502 0.502 0.502"/><feFuncG type="table" tableValues="0.102 0.132 0.162 0.192 0.221 0.251 0.281 0.311 0.341 0.371 0.400 0.430 0.460 0.490 0.523 0.559 0.594 0.630 0.666 0.701 0.737 0.772 0.808 0.843 0.879 0.915 0.950 0.986 1.000 1.000 1.000 1.000 1.000 1.000 1.000 1.000 1.000 1.000 1.000 1.000 1.000 1.000 1.000 0.958 0.917 0.875 0.834 0.792 0.751 0.709 0.668 0.626 0.585 0.543 0.502 0.471 0.439 0.408 0.376 0.345 0.314 0.282 0.251 0.220 0.188 0.157 0.125 0.094 0.063 0.031 0.000 0.000 0.000 0.000 0.000 0.000 0.000 0.000 0.000 0.000 0.000"/><feFuncB type="table" tableValues="0.416 0.459 0.503 0.547 0.590 0.634 0.677 0.721 0.765 0.808 0.852 0.895 0.939 0.983 1.000 1.000 1.000 1.000 1.000 1.000 1.000 1.000 1.000 1.000 1.000 1.000 1.000 1.000 0.962 0.899 0.836 0.773 0.710 0.647 0.584 0.521 0.502 0.502 0.502 0.502 0.502 0.502 0.502 0.460 0.418 0.376 0.335 0.293 0.251 0.209 0.167 0.125 0.084 0.042 0.000 0.000 0.000 0.000 0.000 0.000 0.000 0.000 0.000 0.000 0.000 0.000 0.000 0.000 0.000 0.000 0.000 0.000 0.000 0.000 0.000 0.000 0.000 0.000 0.000 0.000 0.000"/></feComponentTransfer></filter>
<linearGradient id="wvbase" gradientUnits="userSpaceOnUse" x1="980" y1="0" x2="1620" y2="0">
<stop offset="0" stop-color="#383838"/><stop offset="0.12" stop-color="#414141"/><stop offset="0.22" stop-color="#4b4b4b"/><stop offset="0.32" stop-color="#555555"/><stop offset="0.42" stop-color="#5e5e5e"/><stop offset="0.7" stop-color="#5e5e5e"/><stop offset="1" stop-color="#565656"/></linearGradient>
<g filter="url(#cmap)">
<rect x="960" y="90" width="780" height="760" fill="url(#wvbase)"/>
<polygon points="900,60 1700,60 1700,330 1600,318 1560,262 1470,226 1390,212 1310,218 1240,246 1185,300 1152,370 1136,450 1126,530 1100,610 1040,690 900,740" fill="#464646" opacity="1" filter="url(#b14)"/>
<polygon points="900,60 1700,60 1700,290 1620,270 1575,222 1480,185 1390,170 1300,176 1215,208 1150,268 1112,350 1093,440 1082,520 1058,590 1010,650 900,690" fill="#383838" opacity="1" filter="url(#b25)"/>
<ellipse cx="978" cy="395" rx="48" ry="135" fill="#2b2b2b" opacity="0.95" filter="url(#b25)"/>
<ellipse cx="1392" cy="452" rx="250" ry="232" fill="#585858" opacity="1" filter="url(#b8)"/>
<ellipse cx="1400" cy="448" rx="222" ry="192" fill="#6e6e6e" opacity="1" filter="url(#b14)"/>
<ellipse cx="1545" cy="470" rx="90" ry="150" fill="#6c6c6c" opacity="0.9" filter="url(#b14)"/>
<ellipse cx="1380" cy="640" rx="120" ry="100" fill="#686868" opacity="0.85" filter="url(#b25)"/>
<ellipse cx="1420" cy="760" rx="90" ry="60" fill="#646464" opacity="0.6" filter="url(#b25)"/>
<ellipse cx="1365" cy="462" rx="138" ry="124" fill="#797979" opacity="0.9" filter="url(#b8)"/>
<ellipse cx="1325" cy="490" rx="105" ry="100" fill="#818181" opacity="0.75" filter="url(#b8)"/>
<path d="M1295,345 C1240,370 1218,420 1222,470 C1228,520 1262,545 1300,548" fill="none" stroke="#878787" stroke-width="13" stroke-linecap="round" stroke-linejoin="round" opacity="0.9" filter="url(#b4)"/>
<path d="M1352,303 C1390,295 1430,305 1458,320" fill="none" stroke="#838383" stroke-width="5" stroke-linecap="round" stroke-linejoin="round" opacity="0.7" filter="url(#b2)"/>
<path d="M1290,330 C1310,312 1335,302 1352,300" fill="none" stroke="#808080" stroke-width="5" stroke-linecap="round" stroke-linejoin="round" opacity="0.6" filter="url(#b2)"/>
<ellipse cx="1365" cy="460" rx="110" ry="97" fill="#898989" opacity="0.95" filter="url(#b4)"/>
<path d="M1462,470 C1470,530 1440,580 1400,600 C1385,607 1370,612 1358,614" fill="none" stroke="#868686" stroke-width="13" stroke-linecap="round" stroke-linejoin="round" opacity="0.9" filter="url(#b4)"/>
<path d="M1478,440 C1490,500 1470,560 1440,590" fill="none" stroke="#7c7c7c" stroke-width="10" stroke-linecap="round" stroke-linejoin="round" opacity="0.6" filter="url(#b4)"/>
<path d="M1410,585 L1385,598" fill="none" stroke="#969696" stroke-width="7" stroke-linecap="round" stroke-linejoin="round" opacity="0.8" filter="url(#b2)"/>
<ellipse cx="1367" cy="456" rx="92" ry="78" fill="#999999" opacity="1" filter="url(#b4)"/>
<ellipse cx="1362" cy="460" rx="74" ry="61" fill="#a7a7a7" opacity="1" filter="url(#b4)"/>
<ellipse cx="1355" cy="460" rx="63" ry="54" fill="#b7b7b7" opacity="1" filter="url(#b4)"/>
<ellipse cx="1350" cy="460" rx="51" ry="45" fill="#c6c6c6" opacity="1" filter="url(#b4)"/>
<path d="M1326,446 C1340,424 1372,428 1381,452 C1388,478 1372,500 1346,502" fill="none" stroke="#d2d2d2" stroke-width="11" stroke-linecap="round" stroke-linejoin="round" opacity="0.75" filter="url(#b4)"/>
<path d="M1400,420 C1425,440 1430,480 1415,505" fill="none" stroke="#b2b2b2" stroke-width="9" stroke-linecap="round" stroke-linejoin="round" opacity="0.6" filter="url(#b4)"/>
<ellipse cx="1341.5" cy="463.5" rx="11.5" ry="11.5" fill="#8c8c8c" opacity="1" filter="url(#b2)"/>
<ellipse cx="1341" cy="464" rx="7" ry="7" fill="#636363" opacity="1" filter="url(#b2)"/>
<ellipse cx="1545.5" cy="383" rx="20.5" ry="22" fill="#868686" opacity="1" filter="url(#b2)"/>
<ellipse cx="1545.5" cy="383" rx="17.5" ry="19" fill="#acacac" opacity="1" filter="url(#b2)"/>
<ellipse cx="1543" cy="377" rx="7" ry="8" fill="#c6c6c6" opacity="0.9" filter="url(#b2)"/>
<ellipse cx="1552" cy="254" rx="6" ry="5" fill="#737373" opacity="0.9" filter="url(#b2)"/>
<rect x="960" y="90" width="780" height="760" filter="url(#noise2)" opacity="0.05"/>
<rect x="960" y="90" width="780" height="760" filter="url(#noise2b)" opacity="0.05"/>
</g>
</g>
<g stroke="#fff" stroke-width="2.1" stroke-dasharray="2.1 3.47" fill="none"><line x1="1030.6" y1="829.5" x2="1030.6" y2="101.0"/><line x1="1176.8" y1="829.5" x2="1176.8" y2="101.0"/><line x1="1322.8" y1="829.5" x2="1322.8" y2="101.0"/><line x1="1468.2" y1="829.5" x2="1468.2" y2="101.0"/><line x1="1614.0" y1="829.5" x2="1614.0" y2="101.0"/><line x1="979.5" y1="117.1" x2="1707.5" y2="117.1"/><line x1="979.5" y1="262.8" x2="1707.5" y2="262.8"/><line x1="979.5" y1="408.2" x2="1707.5" y2="408.2"/><line x1="979.5" y1="553.7" x2="1707.5" y2="553.7"/><line x1="979.5" y1="699.6" x2="1707.5" y2="699.6"/></g>
</g>
<rect x="979.5" y="101.0" width="728.0" height="728.5" fill="none" stroke="#000" stroke-width="2.6"/>
<text x="1030.60" y="851.30" font-size="13.55" text-anchor="middle" font-weight="normal" fill="#000" >148°W</text>
<text x="1176.80" y="851.30" font-size="13.55" text-anchor="middle" font-weight="normal" fill="#000" >146°W</text>
<text x="1322.80" y="851.30" font-size="13.55" text-anchor="middle" font-weight="normal" fill="#000" >144°W</text>
<text x="1468.20" y="851.30" font-size="13.55" text-anchor="middle" font-weight="normal" fill="#000" >142°W</text>
<text x="1614.00" y="851.30" font-size="13.55" text-anchor="middle" font-weight="normal" fill="#000" >140°W</text>
<text x="971.40" y="121.00" font-size="13.55" text-anchor="end" font-weight="normal" fill="#000" >22°N</text>
<text x="971.40" y="266.70" font-size="13.55" text-anchor="end" font-weight="normal" fill="#000" >20°N</text>
<text x="971.40" y="412.10" font-size="13.55" text-anchor="end" font-weight="normal" fill="#000" >18°N</text>
<text x="971.40" y="557.60" font-size="13.55" text-anchor="end" font-weight="normal" fill="#000" >16°N</text>
<text x="971.40" y="703.50" font-size="13.55" text-anchor="end" font-weight="normal" fill="#000" >14°N</text>
<rect x="1714.5" y="101" width="14.6" height="728.5" fill="url(#gWV)" stroke="#000" stroke-width="1.1"/>
<text x="1735.80" y="155.97" font-size="16.2" text-anchor="start" font-weight="normal" fill="#000" >40</text>
<text x="1735.80" y="204.53" font-size="16.2" text-anchor="start" font-weight="normal" fill="#000" >30</text>
<text x="1735.80" y="253.10" font-size="16.2" text-anchor="start" font-weight="normal" fill="#000" >20</text>
<text x="1735.80" y="301.67" font-size="16.2" text-anchor="start" font-weight="normal" fill="#000" >10</text>
<text x="1735.80" y="350.23" font-size="16.2" text-anchor="start" font-weight="normal" fill="#000" >0</text>
<text x="1735.80" y="398.80" font-size="16.2" text-anchor="start" font-weight="normal" fill="#000" >−10</text>
<text x="1735.80" y="447.37" font-size="16.2" text-anchor="start" font-weight="normal" fill="#000" >−20</text>
<text x="1735.80" y="495.93" font-size="16.2" text-anchor="start" font-weight="normal" fill="#000" >−30</text>
<text x="1735.80" y="544.50" font-size="16.2" text-anchor="start" font-weight="normal" fill="#000" >−40</text>
<text x="1735.80" y="593.07" font-size="16.2" text-anchor="start" font-weight="normal" fill="#000" >−50</text>
<text x="1735.80" y="641.63" font-size="16.2" text-anchor="start" font-weight="normal" fill="#000" >−60</text>
<text x="1735.80" y="690.20" font-size="16.2" text-anchor="start" font-weight="normal" fill="#000" >−70</text>
<text x="1735.80" y="738.77" font-size="16.2" text-anchor="start" font-weight="normal" fill="#000" >−80</text>
<text x="1735.80" y="787.33" font-size="16.2" text-anchor="start" font-weight="normal" fill="#000" >−90</text>
<text x="1723.40" y="94.00" font-size="16.2" text-anchor="start" font-weight="normal" fill="#000" >°C</text>
<text x="479.50" y="881.60" font-size="22.55" text-anchor="middle" font-weight="normal" fill="#000" >Wind / Pres. / ACE Diagnosis</text>
<rect x="104.5" y="903.6" width="750.1" height="749.9999999999999" fill="#fff"/>
<g fill="none" stroke-linejoin="round">
<polyline points="136.2,1260.8 147.3,1260.8 158.3,1260.8 169.4,1260.8 180.5,1260.8 191.5,1260.8 202.6,1260.8 213.7,1260.8 224.8,1260.8 235.8,1260.8 246.9,1260.8 258.0,1244.6 269.0,1244.6 280.1,1244.6 291.2,1228.3 302.2,1212.1 313.3,1212.1 324.4,1195.8 335.5,1195.8 346.5,1179.6 357.6,1147.1 368.7,1147.1 379.7,1114.7 390.8,1082.2 401.9,1066.0 412.9,1033.5 424.0,1033.5 435.1,1033.5 446.2,968.5 457.2,919.8 468.3,919.8 479.4,952.3 490.4,952.3 501.5,952.3 512.6,968.5 523.6,1001.0 534.7,984.8 545.8,952.3 556.9,936.0 567.9,952.3 579.0,968.5 590.1,952.3 601.1,952.3" stroke="#0000ff" stroke-width="5.4" stroke-linecap="square"/>
<polyline points="601.9,951.5 624.2,1002.9 646.4,1021.0 668.7,1054.4 690.9,1089.2 713.2,1122.6 735.5,1158.8 741.0,1171.3 766.0,1171.3 786.9,1212.2 802.2,1212.2 820.3,1228.3" stroke="#0000ff" stroke-width="5.4" stroke-dasharray="5.3 8.75"/>
<polyline points="136.2,1636.1 147.3,1636.1 158.3,1636.1 169.4,1636.1 180.5,1636.1 191.5,1636.1 202.6,1636.1 213.7,1636.1 224.8,1636.1 235.8,1636.1 246.9,1636.1 258.0,1636.1 269.0,1636.1 280.1,1636.1 291.2,1636.1 302.2,1634.9 313.3,1633.7 324.4,1632.1 335.5,1630.5 346.5,1628.5 357.6,1625.5 368.7,1622.5 379.7,1618.4 390.8,1612.8 401.9,1606.5 412.9,1598.5 424.0,1590.5 435.1,1582.5 446.2,1570.6 457.2,1555.1 468.3,1539.7 479.4,1526.6 490.4,1513.6 501.5,1500.5 512.6,1488.6 523.6,1478.7 534.7,1467.8 545.8,1454.8 556.9,1440.5 567.9,1427.5 579.0,1415.5 590.1,1402.5 601.1,1389.4" stroke="#008000" stroke-width="5.2" stroke-linecap="square"/>
<polyline points="601.0,1388.2 630.4,1358.8 662.4,1334.8 694.5,1317.7 726.5,1307.0 758.6,1300.6 790.6,1296.9 812.0,1294.7" stroke="#008000" stroke-width="5.4" stroke-dasharray="5.3 8.75"/>
</g>
<g fill="none" stroke="#000" stroke-width="3">
<rect x="104.5" y="903.6" width="750.1" height="374.4"/>
<rect x="104.5" y="1278.0" width="750.1" height="375.5999999999999"/>
<line x1="103.0" y1="1260.8" x2="93.3" y2="1260.8"/>
<line x1="103.0" y1="1195.8" x2="93.3" y2="1195.8"/>
<line x1="103.0" y1="1130.9" x2="93.3" y2="1130.9"/>
<line x1="103.0" y1="1066.0" x2="93.3" y2="1066.0"/>
<line x1="103.0" y1="1001.0" x2="93.3" y2="1001.0"/>
<line x1="103.0" y1="936.0" x2="93.3" y2="936.0"/>
<line x1="856.1" y1="1229.8" x2="865.8000000000001" y2="1229.8"/>
<line x1="856.1" y1="1178.1" x2="865.8000000000001" y2="1178.1"/>
<line x1="856.1" y1="1126.5" x2="865.8000000000001" y2="1126.5"/>
<line x1="856.1" y1="1074.8" x2="865.8000000000001" y2="1074.8"/>
<line x1="856.1" y1="1023.2" x2="865.8000000000001" y2="1023.2"/>
<line x1="856.1" y1="971.5" x2="865.8000000000001" y2="971.5"/>
<line x1="856.1" y1="919.9" x2="865.8000000000001" y2="919.9"/>
<line x1="103.0" y1="1636.1" x2="93.3" y2="1636.1"/>
<line x1="103.0" y1="1586.7" x2="93.3" y2="1586.7"/>
<line x1="103.0" y1="1537.4" x2="93.3" y2="1537.4"/>
<line x1="103.0" y1="1488.0" x2="93.3" y2="1488.0"/>
<line x1="103.0" y1="1438.6" x2="93.3" y2="1438.6"/>
<line x1="103.0" y1="1389.2" x2="93.3" y2="1389.2"/>
<line x1="103.0" y1="1339.9" x2="93.3" y2="1339.9"/>
<line x1="103.0" y1="1290.5" x2="93.3" y2="1290.5"/>
</g>
<text x="78.20" y="1265.70" font-size="13.55" text-anchor="end" font-weight="normal" fill="#000" >20</text>
<text x="78.20" y="1200.75" font-size="13.55" text-anchor="end" font-weight="normal" fill="#000" >40</text>
<text x="78.20" y="1135.80" font-size="13.55" text-anchor="end" font-weight="normal" fill="#000" >60</text>
<text x="78.20" y="1070.85" font-size="13.55" text-anchor="end" font-weight="normal" fill="#000" >80</text>
<text x="78.20" y="1005.90" font-size="13.55" text-anchor="end" font-weight="normal" fill="#000" >100</text>
<text x="78.20" y="940.95" font-size="13.55" text-anchor="end" font-weight="normal" fill="#000" >120</text>
<text x="877.40" y="1234.70" font-size="13.55" text-anchor="start" font-weight="normal" fill="#000" >950</text>
<text x="877.40" y="1183.05" font-size="13.55" text-anchor="start" font-weight="normal" fill="#000" >960</text>
<text x="877.40" y="1131.40" font-size="13.55" text-anchor="start" font-weight="normal" fill="#000" >970</text>
<text x="877.40" y="1079.75" font-size="13.55" text-anchor="start" font-weight="normal" fill="#000" >980</text>
<text x="877.40" y="1028.10" font-size="13.55" text-anchor="start" font-weight="normal" fill="#000" >990</text>
<text x="877.40" y="976.45" font-size="13.55" text-anchor="start" font-weight="normal" fill="#000" >1000</text>
<text x="877.40" y="924.80" font-size="13.55" text-anchor="start" font-weight="normal" fill="#000" >1010</text>
<text x="78.20" y="1641.00" font-size="13.55" text-anchor="end" font-weight="normal" fill="#000" >0</text>
<text x="78.20" y="1591.63" font-size="13.55" text-anchor="end" font-weight="normal" fill="#000" >5</text>
<text x="78.20" y="1542.26" font-size="13.55" text-anchor="end" font-weight="normal" fill="#000" >10</text>
<text x="78.20" y="1492.89" font-size="13.55" text-anchor="end" font-weight="normal" fill="#000" >15</text>
<text x="78.20" y="1443.52" font-size="13.55" text-anchor="end" font-weight="normal" fill="#000" >20</text>
<text x="78.20" y="1394.15" font-size="13.55" text-anchor="end" font-weight="normal" fill="#000" >25</text>
<text x="78.20" y="1344.78" font-size="13.55" text-anchor="end" font-weight="normal" fill="#000" >30</text>
<text x="78.20" y="1295.41" font-size="13.55" text-anchor="end" font-weight="normal" fill="#000" >35</text>
<text x="0.00" y="0.00" font-size="13.55" text-anchor="middle" font-weight="normal" fill="#000" transform="translate(35.3,1091) rotate(-90)">Wind</text>
<text x="0.00" y="0.00" font-size="13.55" text-anchor="middle" font-weight="normal" fill="#000" transform="translate(938.5,1092.5) rotate(-90)">Pressure</text>
<text x="0.00" y="0.00" font-size="13.55" text-anchor="middle" font-weight="normal" fill="#000" transform="translate(42.5,1466) rotate(-90)">ACE</text>
<rect x="113.8" y="912.2" width="278.5" height="62.5" rx="4" ry="4" fill="#fff" fill-opacity="0.8" stroke="#ccc" stroke-opacity="0.8" stroke-width="3.4"/>
<line x1="121.5" y1="928.6" x2="159.4" y2="928.6" stroke="#0000ff" stroke-width="5.4" stroke-linecap="square"/>
<line x1="121.5" y1="956.6" x2="159.4" y2="956.6" stroke="#0000ff" stroke-width="5.4" stroke-dasharray="5.3 8.75"/>
<text x="174.30" y="936.20" font-size="19.15" text-anchor="start" font-weight="normal" fill="#000" >Wind[max=125]</text>
<text x="174.30" y="964.20" font-size="19.15" text-anchor="start" font-weight="normal" fill="#000" >Wind Fore.[max=115]</text>
<polyline fill="none" stroke-linejoin="round" points="136.2,919.9 147.3,919.9 158.3,919.9 169.4,919.9 180.5,919.9 191.5,919.9 202.6,919.9 213.7,919.9 224.8,919.9 235.8,919.9 246.9,919.9 258.0,919.9 269.0,925.1 280.1,925.1 291.2,925.1 302.2,935.4 313.3,940.6 324.4,950.9 335.5,950.9 346.5,971.5 357.6,976.7 368.7,987.0 379.7,1012.9 390.8,1038.7 401.9,1054.2 412.9,1111.0 424.0,1111.0 435.1,1111.0 446.2,1183.3 457.2,1260.8 468.3,1260.8 479.4,1224.6 490.4,1224.6 501.5,1224.6 512.6,1204.0 523.6,1167.8 534.7,1188.5 545.8,1224.6 556.9,1250.5 567.9,1240.1 579.0,1224.6 590.1,1240.1 601.1,1193.6" stroke="#1f77b4" stroke-width="5.4" stroke-linecap="square"/>
<rect x="625.2" y="912.2" width="219.5" height="35.2" rx="4" ry="4" fill="#fff" fill-opacity="0.8" stroke="#ccc" stroke-opacity="0.8" stroke-width="3.4"/>
<line x1="633" y1="928.6" x2="670.9" y2="928.6" stroke="#1f77b4" stroke-width="5.4" stroke-linecap="square"/>
<text x="686.60" y="936.20" font-size="19.15" text-anchor="start" font-weight="normal" fill="#000" >Pres.[min=944]</text>
<rect x="113.8" y="1287.5" width="311.5" height="62.5" rx="4" ry="4" fill="#fff" fill-opacity="0.8" stroke="#ccc" stroke-opacity="0.8" stroke-width="3.4"/>
<line x1="121.5" y1="1303.6" x2="159.4" y2="1303.6" stroke="#008000" stroke-width="5.4" stroke-linecap="square"/>
<line x1="121.5" y1="1331.6" x2="159.4" y2="1331.6" stroke="#008000" stroke-width="5.4" stroke-dasharray="5.3 8.75"/>
<text x="174.30" y="1311.00" font-size="19.15" text-anchor="start" font-weight="normal" fill="#000" >ACE[max=24.9825]</text>
<text x="174.30" y="1339.00" font-size="19.15" text-anchor="start" font-weight="normal" fill="#000" >ACE Fore.[max=34.5056]</text>
<clipPath id="clipW"><rect x="979.4" y="903.5" width="750.1" height="749.8"/></clipPath>
<rect x="979.4" y="903.5" width="750.1" height="749.8" fill="#a0a0a0"/>
<g clip-path="url(#clipW)" shape-rendering="crispEdges">
<rect x="980.5" y="904.7" width="71.7" height="15.2" fill="#707070"/>
<rect x="980.5" y="919.3" width="44.9" height="32.6" fill="#707070"/>
<rect x="980.5" y="951.3" width="31.1" height="29.4" fill="#707070"/>
<rect x="980.5" y="980.1" width="17.5" height="16.0" fill="#707070"/>
<rect x="1336.9" y="1129.8" width="87.2" height="14.8" fill="#707070"/>
<rect x="1308.9" y="1143.9" width="130.3" height="12.9" fill="#707070"/>
<rect x="1227.9" y="1259.6" width="4.0" height="15.4" fill="#707070"/>
<rect x="1308.6" y="1144.7" width="130.6" height="14.4" fill="#707070"/>
<rect x="1280.9" y="1158.5" width="173.2" height="15.2" fill="#707070"/>
<rect x="1266.6" y="1173.2" width="159.8" height="15.2" fill="#707070"/>
<rect x="1252.8" y="1187.8" width="188.3" height="15.2" fill="#707070"/>
<rect x="1238.9" y="1202.4" width="217.2" height="15.2" fill="#707070"/>
<rect x="1239.7" y="1217.0" width="231.4" height="16.0" fill="#707070"/>
<rect x="1240.5" y="1232.4" width="230.6" height="14.4" fill="#707070"/>
<rect x="1413.9" y="1246.2" width="44.1" height="15.2" fill="#707070"/>
<rect x="1227.7" y="1260.9" width="14.9" height="15.2" fill="#707070"/>
<rect x="1414.8" y="1260.9" width="29.4" height="15.2" fill="#707070"/>
<rect x="1429.7" y="1275.5" width="29.5" height="15.2" fill="#707070"/>
<rect x="1430.5" y="1290.1" width="29.5" height="15.2" fill="#707070"/>
<rect x="1243.5" y="1304.7" width="14.8" height="15.2" fill="#707070"/>
<rect x="1430.5" y="1304.7" width="15.7" height="15.2" fill="#707070"/>
<rect x="1272.8" y="1319.3" width="15.2" height="15.2" fill="#707070"/>
<rect x="1402.8" y="1319.3" width="29.5" height="15.2" fill="#707070"/>
<rect x="1287.7" y="1333.9" width="15.4" height="15.7" fill="#707070"/>
<rect x="1388.6" y="1333.9" width="29.7" height="15.7" fill="#707070"/>
<rect x="1303.9" y="1349.0" width="14.4" height="15.2" fill="#707070"/>
<rect x="1375.4" y="1349.0" width="14.9" height="15.2" fill="#707070"/>
<rect x="1318.6" y="1363.6" width="57.4" height="15.2" fill="#707070"/>
<rect x="979.3" y="1506.5" width="15.0" height="30.5" fill="#707070"/>
<rect x="979.3" y="1536.4" width="45.0" height="15.1" fill="#707070"/>
<rect x="979.3" y="1551.0" width="74.4" height="30.5" fill="#707070"/>
<rect x="979.3" y="1580.8" width="90.1" height="14.2" fill="#707070"/>
<rect x="979.3" y="1594.4" width="104.9" height="15.8" fill="#707070"/>
<rect x="979.3" y="1609.6" width="134.0" height="15.8" fill="#707070"/>
<rect x="979.3" y="1624.8" width="149.2" height="15.0" fill="#707070"/>
<rect x="979.3" y="1639.1" width="208.0" height="15.0" fill="#707070"/>
<rect x="1381.7" y="1158.5" width="29.7" height="15.2" fill="#3c3c3c"/>
<rect x="1295.9" y="1173.2" width="43.4" height="15.2" fill="#3c3c3c"/>
<rect x="1267.7" y="1187.8" width="28.4" height="15.2" fill="#3c3c3c"/>
<rect x="1339.7" y="1187.8" width="14.4" height="15.2" fill="#3c3c3c"/>
<rect x="1253.5" y="1202.4" width="14.8" height="15.2" fill="#3c3c3c"/>
<rect x="1354.8" y="1202.4" width="14.4" height="15.2" fill="#3c3c3c"/>
<rect x="1384.0" y="1217.0" width="15.1" height="16.0" fill="#3c3c3c"/>
<rect x="1398.9" y="1232.4" width="15.2" height="14.4" fill="#3c3c3c"/>
<rect x="1240.9" y="1246.2" width="15.1" height="15.2" fill="#3c3c3c"/>
<rect x="1399.7" y="1246.2" width="14.8" height="15.2" fill="#3c3c3c"/>
<rect x="1242.0" y="1260.9" width="14.8" height="15.2" fill="#3c3c3c"/>
<rect x="1400.5" y="1260.9" width="14.9" height="15.2" fill="#3c3c3c"/>
<rect x="1242.8" y="1275.5" width="14.4" height="15.2" fill="#3c3c3c"/>
<rect x="1415.9" y="1275.5" width="14.4" height="15.2" fill="#3c3c3c"/>
<rect x="1242.8" y="1290.1" width="15.2" height="15.2" fill="#3c3c3c"/>
<rect x="1415.9" y="1290.1" width="15.2" height="15.2" fill="#3c3c3c"/>
<rect x="1257.7" y="1304.7" width="44.4" height="15.2" fill="#3c3c3c"/>
<rect x="1402.8" y="1304.7" width="28.3" height="15.2" fill="#3c3c3c"/>
<rect x="1287.4" y="1319.3" width="14.8" height="15.2" fill="#3c3c3c"/>
<rect x="1388.6" y="1319.3" width="14.8" height="15.2" fill="#3c3c3c"/>
<rect x="1374.8" y="1333.9" width="14.4" height="15.7" fill="#3c3c3c"/>
<rect x="1317.7" y="1349.0" width="14.4" height="15.2" fill="#3c3c3c"/>
<rect x="1360.5" y="1349.0" width="15.5" height="15.2" fill="#3c3c3c"/>
<rect x="1217.7" y="1055.8" width="14.1" height="29.5" fill="#000"/>
<rect x="1204.8" y="1084.7" width="27.1" height="15.5" fill="#000"/>
<rect x="1135.9" y="1142.7" width="14.4" height="14.1" fill="#000"/>
<rect x="1357.9" y="953.5" width="44.4" height="15.4" fill="#000"/>
<rect x="1286.9" y="968.2" width="14.4" height="15.5" fill="#000"/>
<rect x="1315.9" y="968.2" width="14.4" height="15.5" fill="#000"/>
<rect x="1358.6" y="968.2" width="29.7" height="15.5" fill="#000"/>
<rect x="1445.5" y="968.2" width="36.3" height="15.5" fill="#000"/>
<rect x="1257.7" y="983.2" width="73.7" height="14.3" fill="#000"/>
<rect x="1373.5" y="983.2" width="14.8" height="14.3" fill="#000"/>
<rect x="1431.7" y="983.2" width="50.1" height="14.3" fill="#000"/>
<rect x="1244.8" y="996.9" width="86.6" height="15.1" fill="#000"/>
<rect x="1345.5" y="996.9" width="136.3" height="15.1" fill="#000"/>
<rect x="1230.8" y="1011.3" width="72.6" height="15.5" fill="#000"/>
<rect x="1317.7" y="1011.3" width="164.1" height="15.5" fill="#000"/>
<rect x="1230.8" y="1026.2" width="58.8" height="15.4" fill="#000"/>
<rect x="1317.7" y="1026.2" width="164.1" height="15.4" fill="#000"/>
<rect x="1231.7" y="1041.0" width="43.7" height="15.4" fill="#000"/>
<rect x="1318.6" y="1041.0" width="163.2" height="15.4" fill="#000"/>
<rect x="1218.2" y="1055.8" width="58.0" height="15.4" fill="#000"/>
<rect x="1318.6" y="1055.8" width="163.2" height="15.4" fill="#000"/>
<rect x="1218.2" y="1070.5" width="44.0" height="15.2" fill="#000"/>
<rect x="1348.6" y="1070.5" width="14.8" height="15.2" fill="#000"/>
<rect x="1391.7" y="1070.5" width="90.1" height="15.2" fill="#000"/>
<rect x="1218.2" y="1085.2" width="16.3" height="15.4" fill="#000"/>
<rect x="1406.6" y="1085.2" width="75.2" height="15.4" fill="#000"/>
<rect x="1422.8" y="1099.9" width="59.1" height="16.1" fill="#000"/>
<rect x="1451.7" y="1115.5" width="30.1" height="14.4" fill="#000"/>
<rect x="1531.7" y="954.6" width="86.4" height="15.3" fill="#000"/>
<rect x="1468.1" y="969.3" width="194.2" height="15.8" fill="#000"/>
<rect x="1468.1" y="984.5" width="209.4" height="15.8" fill="#000"/>
<rect x="1691.5" y="984.5" width="15.0" height="15.8" fill="#000"/>
<rect x="1468.1" y="999.7" width="196.3" height="14.7" fill="#000"/>
<rect x="1468.1" y="1013.7" width="167.1" height="15.0" fill="#000"/>
<rect x="1468.1" y="1028.1" width="168.4" height="15.0" fill="#000"/>
<rect x="1468.1" y="1042.5" width="169.2" height="15.8" fill="#000"/>
<rect x="1468.1" y="1057.7" width="184.3" height="15.0" fill="#000"/>
<rect x="1468.1" y="1072.0" width="184.3" height="15.5" fill="#000"/>
<rect x="1468.1" y="1086.9" width="199.0" height="15.3" fill="#000"/>
<rect x="1468.1" y="1101.6" width="200.3" height="15.5" fill="#000"/>
<rect x="1468.1" y="1116.5" width="215.2" height="15.0" fill="#000"/>
<rect x="1481.7" y="1130.8" width="201.6" height="15.3" fill="#000"/>
<rect x="1496.5" y="1145.5" width="203.0" height="15.0" fill="#000"/>
<rect x="1496.5" y="1159.9" width="203.0" height="7.0" fill="#000"/>
<rect x="1135.9" y="1144.7" width="14.4" height="13.7" fill="#000"/>
<rect x="1108.6" y="1186.5" width="14.8" height="14.9" fill="#000"/>
<rect x="1079.7" y="1200.9" width="44.4" height="15.5" fill="#000"/>
<rect x="1051.7" y="1215.8" width="29.4" height="14.9" fill="#000"/>
<rect x="1109.7" y="1215.8" width="29.5" height="14.9" fill="#000"/>
<rect x="1052.8" y="1230.1" width="29.5" height="15.2" fill="#000"/>
<rect x="1053.9" y="1244.7" width="14.4" height="15.5" fill="#000"/>
<rect x="1183.5" y="1259.6" width="15.7" height="15.4" fill="#000"/>
<rect x="1184.6" y="1274.4" width="14.6" height="15.5" fill="#000"/>
<rect x="1113.5" y="1303.9" width="29.8" height="15.2" fill="#000"/>
<rect x="1200.5" y="1303.9" width="14.9" height="15.2" fill="#000"/>
<rect x="1114.3" y="1318.5" width="44.0" height="15.2" fill="#000"/>
<rect x="1114.6" y="1333.2" width="73.7" height="15.2" fill="#000"/>
<rect x="1129.7" y="1347.8" width="87.8" height="14.8" fill="#000"/>
<rect x="1159.7" y="1361.9" width="58.6" height="15.7" fill="#000"/>
<rect x="1160.8" y="1377.0" width="71.1" height="15.2" fill="#000"/>
<rect x="1204.6" y="1391.6" width="27.2" height="15.2" fill="#000"/>
<rect x="1461.5" y="1349.0" width="14.9" height="15.2" fill="#000"/>
<rect x="1218.2" y="1378.2" width="15.2" height="14.8" fill="#000"/>
<rect x="1419.7" y="1378.2" width="43.7" height="14.8" fill="#000"/>
<rect x="1218.2" y="1392.4" width="59.1" height="14.4" fill="#000"/>
<rect x="1362.8" y="1392.4" width="14.4" height="14.4" fill="#000"/>
<rect x="1405.9" y="1392.4" width="44.4" height="14.4" fill="#000"/>
<rect x="1496.5" y="1144.7" width="203.0" height="15.8" fill="#000"/>
<rect x="1496.5" y="1159.9" width="203.0" height="15.5" fill="#000"/>
<rect x="1497.7" y="1174.7" width="202.7" height="16.6" fill="#000"/>
<rect x="1497.7" y="1190.7" width="217.9" height="13.7" fill="#000"/>
<rect x="1498.8" y="1203.8" width="217.6" height="15.3" fill="#000"/>
<rect x="1513.6" y="1218.5" width="202.7" height="15.1" fill="#000"/>
<rect x="1514.8" y="1233.1" width="215.2" height="15.3" fill="#000"/>
<rect x="1529.6" y="1247.8" width="200.3" height="15.5" fill="#000"/>
<rect x="1515.7" y="1262.6" width="202.7" height="15.0" fill="#000"/>
<rect x="1516.5" y="1277.0" width="201.9" height="15.3" fill="#000"/>
<rect x="1516.8" y="1291.7" width="202.4" height="15.8" fill="#000"/>
<rect x="1517.3" y="1306.9" width="212.6" height="15.0" fill="#000"/>
<rect x="1517.6" y="1321.2" width="212.3" height="15.0" fill="#000"/>
<rect x="1504.8" y="1335.6" width="225.1" height="15.0" fill="#000"/>
<rect x="1468.1" y="1350.0" width="8.3" height="15.3" fill="#000"/>
<rect x="1504.8" y="1350.0" width="225.1" height="15.3" fill="#000"/>
<rect x="1505.6" y="1364.7" width="224.3" height="14.7" fill="#000"/>
<rect x="1491.7" y="1378.8" width="216.6" height="15.8" fill="#000"/>
<rect x="1721.8" y="1378.8" width="8.1" height="15.8" fill="#000"/>
<rect x="1492.5" y="1393.9" width="237.4" height="15.8" fill="#000"/>
<rect x="1478.5" y="1409.1" width="216.8" height="7.8" fill="#000"/>
<rect x="1204.6" y="1394.7" width="37.3" height="11.8" fill="#000"/>
<rect x="1147.8" y="1405.9" width="86.9" height="15.3" fill="#000"/>
<rect x="1133.8" y="1420.6" width="108.1" height="14.7" fill="#000"/>
<rect x="1148.6" y="1434.6" width="93.3" height="15.8" fill="#000"/>
<rect x="1163.8" y="1449.8" width="78.1" height="15.3" fill="#000"/>
<rect x="1179.0" y="1464.5" width="62.9" height="15.5" fill="#000"/>
<rect x="1193.9" y="1479.4" width="48.1" height="15.0" fill="#000"/>
<rect x="1222.9" y="1493.8" width="19.0" height="15.3" fill="#000"/>
<rect x="1238.6" y="1508.5" width="3.3" height="15.5" fill="#000"/>
<rect x="1224.9" y="1523.3" width="17.1" height="15.0" fill="#000"/>
<rect x="1138.7" y="1537.7" width="86.7" height="15.0" fill="#000"/>
<rect x="1153.8" y="1552.1" width="58.6" height="15.3" fill="#000"/>
<rect x="1182.7" y="1566.8" width="15.6" height="15.1" fill="#000"/>
<rect x="1218.1" y="1394.7" width="59.4" height="12.6" fill="#000"/>
<rect x="1362.7" y="1394.7" width="15.0" height="12.6" fill="#000"/>
<rect x="1405.8" y="1394.7" width="44.5" height="12.6" fill="#000"/>
<rect x="1218.1" y="1406.7" width="16.6" height="15.5" fill="#000"/>
<rect x="1262.5" y="1406.7" width="102.1" height="15.5" fill="#000"/>
<rect x="1392.7" y="1406.7" width="57.6" height="15.5" fill="#000"/>
<rect x="1478.5" y="1406.7" width="13.4" height="15.5" fill="#000"/>
<rect x="1218.1" y="1421.5" width="31.4" height="14.5" fill="#000"/>
<rect x="1306.8" y="1421.5" width="185.1" height="14.5" fill="#000"/>
<rect x="1218.1" y="1435.4" width="273.8" height="45.8" fill="#000"/>
<rect x="1218.1" y="1480.7" width="273.8" height="15.0" fill="#000"/>
<rect x="1222.6" y="1495.0" width="269.3" height="14.5" fill="#000"/>
<rect x="1238.6" y="1508.9" width="253.4" height="15.5" fill="#000"/>
<rect x="1224.5" y="1523.8" width="130.0" height="15.3" fill="#000"/>
<rect x="1368.8" y="1523.8" width="123.1" height="15.3" fill="#000"/>
<rect x="1218.1" y="1538.5" width="7.0" height="15.0" fill="#000"/>
<rect x="1239.7" y="1538.5" width="29.8" height="15.0" fill="#000"/>
<rect x="1282.8" y="1538.5" width="43.7" height="15.0" fill="#000"/>
<rect x="1368.8" y="1538.5" width="123.1" height="15.0" fill="#000"/>
<rect x="1239.7" y="1552.9" width="15.8" height="15.0" fill="#000"/>
<rect x="1283.6" y="1552.9" width="43.7" height="15.0" fill="#000"/>
<rect x="1383.8" y="1552.9" width="108.1" height="15.0" fill="#000"/>
<rect x="1312.8" y="1567.3" width="14.8" height="15.3" fill="#000"/>
<rect x="1341.9" y="1567.3" width="144.4" height="15.3" fill="#000"/>
<rect x="1269.7" y="1582.0" width="15.8" height="15.1" fill="#000"/>
<rect x="1313.6" y="1582.0" width="172.7" height="15.1" fill="#000"/>
<rect x="1270.5" y="1596.5" width="86.9" height="15.3" fill="#000"/>
<rect x="1400.7" y="1596.5" width="71.7" height="15.3" fill="#000"/>
<rect x="1415.7" y="1611.2" width="43.7" height="15.8" fill="#000"/>
<rect x="1492.5" y="1394.7" width="237.4" height="15.3" fill="#000"/>
<rect x="1478.5" y="1409.4" width="216.8" height="14.7" fill="#000"/>
<rect x="1468.1" y="1423.5" width="213.4" height="15.3" fill="#000"/>
<rect x="1468.1" y="1438.2" width="199.5" height="15.0" fill="#000"/>
<rect x="1468.1" y="1452.5" width="185.5" height="15.5" fill="#000"/>
<rect x="1468.1" y="1467.4" width="172.4" height="15.0" fill="#000"/>
<rect x="1468.1" y="1481.8" width="158.3" height="29.4" fill="#000"/>
<rect x="1468.1" y="1510.5" width="87.4" height="15.8" fill="#000"/>
<rect x="1568.8" y="1510.5" width="15.8" height="15.8" fill="#000"/>
<rect x="1597.8" y="1510.5" width="15.5" height="15.8" fill="#000"/>
<rect x="1468.1" y="1525.7" width="73.3" height="14.7" fill="#000"/>
<rect x="1468.1" y="1539.8" width="74.4" height="15.0" fill="#000"/>
<rect x="1468.1" y="1554.2" width="31.3" height="15.3" fill="#000"/>
<rect x="1468.1" y="1568.8" width="18.2" height="29.4" fill="#000"/>
<rect x="1468.1" y="1597.6" width="4.1" height="14.7" fill="#000"/>
<rect x="1434.8" y="1055.8" width="15.5" height="15.4" fill="#fff"/>
<rect x="1420.8" y="1070.5" width="15.7" height="15.2" fill="#fff"/>
<rect x="1450.9" y="1085.2" width="30.9" height="15.4" fill="#fff"/>
<rect x="1533.6" y="1013.7" width="15.8" height="15.0" fill="#fff"/>
<rect x="1534.4" y="1028.1" width="15.0" height="15.0" fill="#fff"/>
<rect x="1520.5" y="1042.5" width="29.7" height="15.8" fill="#fff"/>
<rect x="1477.7" y="1057.7" width="116.9" height="15.0" fill="#fff"/>
<rect x="1478.8" y="1072.0" width="116.4" height="15.5" fill="#fff"/>
<rect x="1468.1" y="1086.9" width="12.1" height="15.3" fill="#fff"/>
<rect x="1536.8" y="1086.9" width="58.4" height="15.3" fill="#fff"/>
<rect x="1537.6" y="1101.6" width="43.7" height="15.5" fill="#fff"/>
<rect x="1581.5" y="1116.5" width="29.7" height="15.0" fill="#fff"/>
<rect x="1509.6" y="1130.8" width="29.7" height="15.3" fill="#fff"/>
<rect x="1567.5" y="1130.8" width="29.8" height="15.3" fill="#fff"/>
<rect x="1524.8" y="1145.5" width="15.3" height="15.0" fill="#fff"/>
<rect x="1524.8" y="1144.7" width="15.3" height="15.8" fill="#fff"/>
<rect x="1618.8" y="1321.2" width="15.6" height="15.0" fill="#fff"/>
<rect x="1590.8" y="1335.6" width="29.4" height="15.0" fill="#fff"/>
<rect x="1591.6" y="1350.0" width="43.7" height="15.3" fill="#fff"/>
<rect x="1380.7" y="1480.7" width="43.6" height="15.0" fill="#fff"/>
<rect x="1455.8" y="1538.5" width="14.5" height="15.0" fill="#fff"/>
<rect x="1441.8" y="1552.9" width="29.4" height="15.0" fill="#fff"/>
<rect x="1295.5" y="1187.8" width="30.1" height="15.2" fill="#c0c0c0"/>
<rect x="1325.1" y="1187.8" width="15.2" height="15.2" fill="#c8c8c8"/>
<rect x="1267.7" y="1202.4" width="15.7" height="15.2" fill="#c4c4c4"/>
<rect x="1282.8" y="1202.4" width="14.4" height="15.2" fill="#b0b0b0"/>
<rect x="1296.6" y="1202.4" width="15.2" height="15.2" fill="#a4a4a4"/>
<rect x="1311.2" y="1202.4" width="15.2" height="15.2" fill="#acacac"/>
<rect x="1325.9" y="1202.4" width="14.4" height="15.2" fill="#b8b8b8"/>
<rect x="1339.7" y="1202.4" width="15.7" height="15.2" fill="#c4c4c4"/>
<rect x="1253.5" y="1217.0" width="15.7" height="16.0" fill="#cacaca"/>
<rect x="1268.6" y="1217.0" width="14.8" height="16.0" fill="#b4b4b4"/>
<rect x="1282.8" y="1217.0" width="15.2" height="16.0" fill="#a4a4a4"/>
<rect x="1297.4" y="1217.0" width="29.1" height="16.0" fill="#989898"/>
<rect x="1325.9" y="1217.0" width="15.2" height="16.0" fill="#9c9c9c"/>
<rect x="1340.5" y="1217.0" width="14.9" height="16.0" fill="#a2a2a2"/>
<rect x="1354.8" y="1217.0" width="15.1" height="16.0" fill="#b2b2b2"/>
<rect x="1369.2" y="1217.0" width="15.4" height="16.0" fill="#c8c8c8"/>
<rect x="1254.8" y="1232.4" width="15.1" height="14.4" fill="#bebebe"/>
<rect x="1269.2" y="1232.4" width="14.9" height="14.4" fill="#a8a8a8"/>
<rect x="1283.5" y="1232.4" width="14.9" height="14.4" fill="#989898"/>
<rect x="1297.9" y="1232.4" width="14.8" height="14.4" fill="#8c8c8c"/>
<rect x="1312.0" y="1232.4" width="15.2" height="14.4" fill="#868686"/>
<rect x="1326.6" y="1232.4" width="15.2" height="14.4" fill="#808080"/>
<rect x="1341.2" y="1232.4" width="15.2" height="14.4" fill="#848484"/>
<rect x="1355.9" y="1232.4" width="15.2" height="14.4" fill="#929292"/>
<rect x="1370.5" y="1232.4" width="14.8" height="14.4" fill="#b0b0b0"/>
<rect x="1384.6" y="1232.4" width="14.9" height="14.4" fill="#cccccc"/>
<rect x="1255.4" y="1246.2" width="14.9" height="15.2" fill="#b4b4b4"/>
<rect x="1269.7" y="1246.2" width="15.2" height="15.2" fill="#9c9c9c"/>
<rect x="1284.3" y="1246.2" width="14.8" height="15.2" fill="#949494"/>
<rect x="1298.5" y="1246.2" width="14.9" height="15.2" fill="#8e8e8e"/>
<rect x="1312.8" y="1246.2" width="15.2" height="15.2" fill="#8a8a8a"/>
<rect x="1327.4" y="1246.2" width="29.8" height="15.2" fill="#888888"/>
<rect x="1356.6" y="1246.2" width="14.9" height="15.2" fill="#8c8c8c"/>
<rect x="1370.9" y="1246.2" width="15.2" height="15.2" fill="#9c9c9c"/>
<rect x="1385.5" y="1246.2" width="14.8" height="15.2" fill="#bcbcbc"/>
<rect x="1256.2" y="1260.9" width="14.9" height="15.2" fill="#b4b4b4"/>
<rect x="1270.5" y="1260.9" width="29.8" height="15.2" fill="#a4a4a4"/>
<rect x="1299.7" y="1260.9" width="14.8" height="15.2" fill="#a0a0a0"/>
<rect x="1313.9" y="1260.9" width="15.4" height="15.2" fill="#989898"/>
<rect x="1328.6" y="1260.9" width="29.4" height="15.2" fill="#8c8c8c"/>
<rect x="1357.4" y="1260.9" width="14.4" height="15.2" fill="#8e8e8e"/>
<rect x="1371.2" y="1260.9" width="15.2" height="15.2" fill="#989898"/>
<rect x="1385.9" y="1260.9" width="15.2" height="15.2" fill="#b0b0b0"/>
<rect x="1256.6" y="1275.5" width="58.8" height="15.2" fill="#b8b8b8"/>
<rect x="1314.8" y="1275.5" width="14.8" height="15.2" fill="#a4a4a4"/>
<rect x="1328.9" y="1275.5" width="15.2" height="15.2" fill="#8c8c8c"/>
<rect x="1343.5" y="1275.5" width="14.9" height="15.2" fill="#909090"/>
<rect x="1357.9" y="1275.5" width="14.8" height="15.2" fill="#8c8c8c"/>
<rect x="1372.0" y="1275.5" width="15.2" height="15.2" fill="#949494"/>
<rect x="1386.6" y="1275.5" width="14.9" height="15.2" fill="#b0b0b0"/>
<rect x="1400.9" y="1275.5" width="15.5" height="15.2" fill="#c8c8c8"/>
<rect x="1257.4" y="1290.1" width="14.4" height="15.2" fill="#c0c0c0"/>
<rect x="1271.2" y="1290.1" width="15.5" height="15.2" fill="#c4c4c4"/>
<rect x="1286.2" y="1290.1" width="14.9" height="15.2" fill="#c8c8c8"/>
<rect x="1300.5" y="1290.1" width="14.9" height="15.2" fill="#bcbcbc"/>
<rect x="1314.8" y="1290.1" width="15.5" height="15.2" fill="#9c9c9c"/>
<rect x="1329.7" y="1290.1" width="14.9" height="15.2" fill="#909090"/>
<rect x="1344.0" y="1290.1" width="14.8" height="15.2" fill="#949494"/>
<rect x="1358.2" y="1290.1" width="14.9" height="15.2" fill="#989898"/>
<rect x="1372.5" y="1290.1" width="15.1" height="15.2" fill="#a8a8a8"/>
<rect x="1386.9" y="1290.1" width="14.9" height="15.2" fill="#c0c0c0"/>
<rect x="1401.2" y="1290.1" width="15.2" height="15.2" fill="#cacaca"/>
<rect x="1301.5" y="1304.7" width="14.9" height="15.2" fill="#c0c0c0"/>
<rect x="1315.9" y="1304.7" width="14.9" height="15.2" fill="#9c9c9c"/>
<rect x="1330.2" y="1304.7" width="29.4" height="15.2" fill="#949494"/>
<rect x="1358.9" y="1304.7" width="15.2" height="15.2" fill="#a8a8a8"/>
<rect x="1373.5" y="1304.7" width="14.4" height="15.2" fill="#bcbcbc"/>
<rect x="1387.4" y="1304.7" width="16.0" height="15.2" fill="#cacaca"/>
<rect x="1301.5" y="1319.3" width="15.7" height="15.2" fill="#bcbcbc"/>
<rect x="1316.6" y="1319.3" width="14.8" height="15.2" fill="#9c9c9c"/>
<rect x="1330.8" y="1319.3" width="14.9" height="15.2" fill="#989898"/>
<rect x="1345.1" y="1319.3" width="15.2" height="15.2" fill="#a0a0a0"/>
<rect x="1359.7" y="1319.3" width="14.9" height="15.2" fill="#b8b8b8"/>
<rect x="1374.0" y="1319.3" width="15.2" height="15.2" fill="#cacaca"/>
<rect x="1302.5" y="1333.9" width="15.1" height="15.7" fill="#c8c8c8"/>
<rect x="1316.9" y="1333.9" width="29.5" height="15.7" fill="#acacac"/>
<rect x="1345.9" y="1333.9" width="15.2" height="15.7" fill="#b0b0b0"/>
<rect x="1360.5" y="1333.9" width="14.9" height="15.7" fill="#c0c0c0"/>
<rect x="1331.5" y="1349.0" width="29.5" height="15.2" fill="#c8c8c8"/>
</g>
<rect x="979.4" y="903.5" width="750.1" height="749.8" fill="none" stroke="#000" stroke-width="3"/>
<rect x="991" y="917" width="180.2" height="32.3" rx="4.5" ry="4.5" fill="#000"/>
<text x="996.40" y="938.60" font-size="21.0" text-anchor="start" font-weight="bold" fill="#fff" >WMG Count: 0</text>
</svg>
</body></html>
